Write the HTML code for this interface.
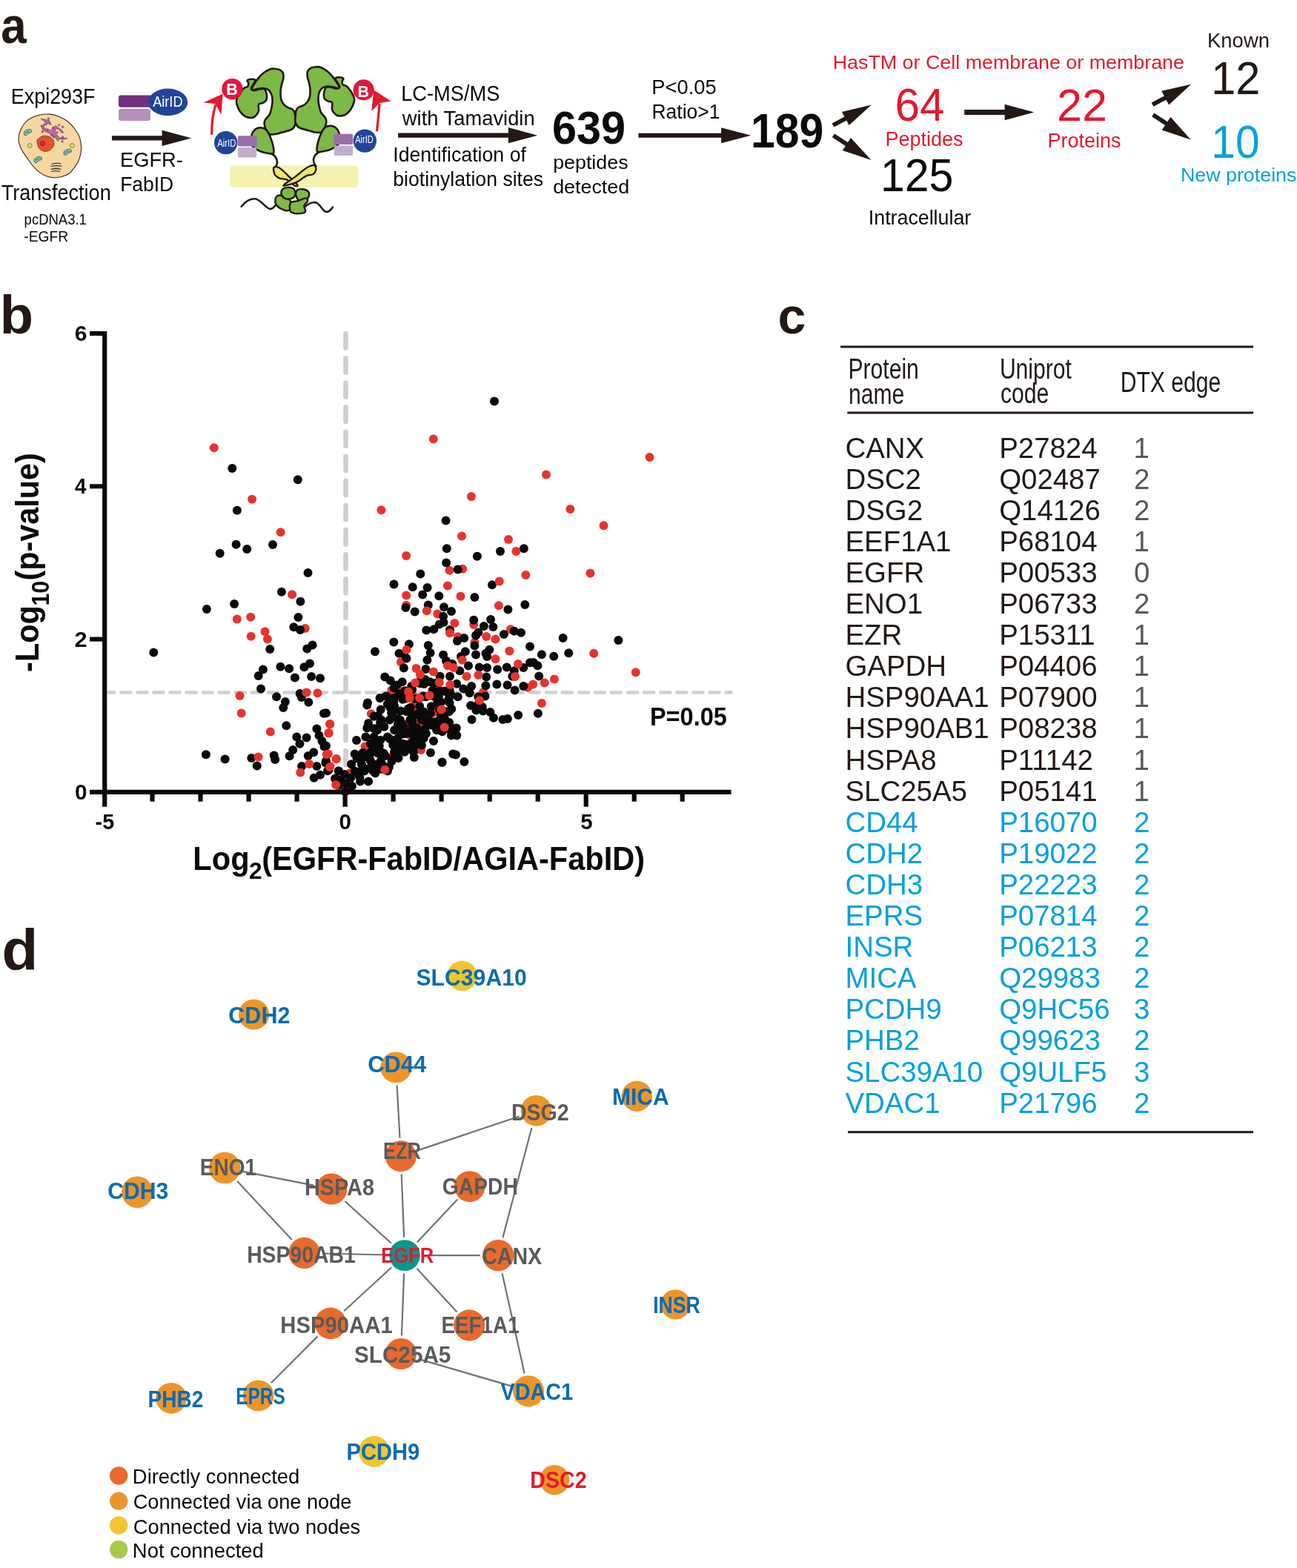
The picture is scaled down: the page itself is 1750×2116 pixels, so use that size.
<!DOCTYPE html>
<html><head><meta charset="utf-8"><title>Figure</title>
<style>
html,body{margin:0;padding:0;background:#fff;}
svg{display:block;}
svg text{font-family:"Liberation Sans",Arial,Helvetica,sans-serif;}
</style></head>
<body>
<svg width="1750" height="2116" viewBox="0 0 1750 2116">
<rect width="1750" height="2116" fill="#fff"/>
<text x="1.21" y="58.20" font-size="69.00" fill="#231815" font-weight="bold" textLength="34.37" lengthAdjust="spacingAndGlyphs" >a</text>
<text x="14.69" y="140.30" font-size="28.80" fill="#0a0a0a" textLength="113.88" lengthAdjust="spacingAndGlyphs" >Expi293F</text>
<text x="1.70" y="269.90" font-size="28.90" fill="#0a0a0a" textLength="148.04" lengthAdjust="spacingAndGlyphs" >Transfection</text>
<text x="32.62" y="302.80" font-size="20.00" fill="#0a0a0a" textLength="84.28" lengthAdjust="spacingAndGlyphs" >pcDNA3.1</text>
<text x="32.25" y="326.00" font-size="19.60" fill="#0a0a0a" textLength="59.83" lengthAdjust="spacingAndGlyphs" >-EGFR</text>
<rect x="160" y="128.6" width="46" height="16.2" rx="3" fill="#722F7E"/>
<rect x="160" y="146.9" width="43" height="16.1" rx="3" fill="#B491BB"/>
<ellipse cx="226.5" cy="137.9" rx="26.7" ry="18.3" fill="#20449A"/>
<text x="206.16" y="143.80" font-size="19.30" fill="#fff" textLength="40.39" lengthAdjust="spacingAndGlyphs" >AirID</text>
<polygon points="151.0,189.5 218.6,189.5 218.6,197.1 258.1,186.4 218.6,175.7 218.6,183.3 151.0,183.3" fill="#231815"/>
<text x="162.06" y="224.80" font-size="28.30" fill="#0a0a0a" textLength="84.83" lengthAdjust="spacingAndGlyphs" >EGFR-</text>
<text x="162.13" y="258.10" font-size="28.30" fill="#0a0a0a" textLength="72.12" lengthAdjust="spacingAndGlyphs" >FabID</text>
<text x="541.16" y="135.80" font-size="29.00" fill="#0a0a0a" textLength="133.37" lengthAdjust="spacingAndGlyphs" >LC-MS/MS</text>
<text x="542.85" y="169.00" font-size="28.50" fill="#0a0a0a" textLength="178.80" lengthAdjust="spacingAndGlyphs" >with Tamavidin</text>
<polygon points="537.1,185.8 685.9,185.8 685.9,193.3 725.2,182.7 685.9,172.1 685.9,179.5 537.1,179.5" fill="#231815"/>
<text x="530.24" y="218.40" font-size="28.50" fill="#0a0a0a" textLength="179.69" lengthAdjust="spacingAndGlyphs" >Identification of</text>
<text x="530.30" y="251.40" font-size="28.50" fill="#0a0a0a" textLength="202.87" lengthAdjust="spacingAndGlyphs" >biotinylation sites</text>
<text x="744.96" y="194.00" font-size="63.50" fill="#0a0a0a" font-weight="bold" textLength="99.10" lengthAdjust="spacingAndGlyphs" >639</text>
<text x="746.18" y="228.20" font-size="25.70" fill="#0a0a0a" textLength="101.38" lengthAdjust="spacingAndGlyphs" >peptides</text>
<text x="746.17" y="260.90" font-size="25.70" fill="#0a0a0a" textLength="102.96" lengthAdjust="spacingAndGlyphs" >detected</text>
<text x="879.36" y="126.70" font-size="27.50" fill="#0a0a0a" textLength="87.26" lengthAdjust="spacingAndGlyphs" >P&lt;0.05</text>
<text x="879.43" y="159.80" font-size="27.50" fill="#0a0a0a" textLength="92.06" lengthAdjust="spacingAndGlyphs" >Ratio&gt;1</text>
<polygon points="861.4,185.7 973.1,185.7 973.1,193.2 1013.2,182.7 973.1,172.2 973.1,179.7 861.4,179.7" fill="#231815"/>
<text x="1012.94" y="199.00" font-size="64.50" fill="#0a0a0a" font-weight="bold" textLength="98.41" lengthAdjust="spacingAndGlyphs" >189</text>
<polygon points="1125.4,171.6 1142.1,162.6 1145.6,169.1 1175.8,141.4 1135.9,151.0 1139.4,157.5 1122.6,166.4" fill="#231815"/>
<polygon points="1122.8,185.3 1140.8,197.0 1136.8,203.1 1175.5,216.0 1147.9,185.9 1143.9,192.1 1126.0,180.5" fill="#231815"/>
<text x="1123.70" y="92.80" font-size="26.30" fill="#E3192D" textLength="474.28" lengthAdjust="spacingAndGlyphs" >HasTM or Cell membrane or membrane</text>
<text x="1207.49" y="162.80" font-size="62.30" fill="#E3192D" textLength="66.98" lengthAdjust="spacingAndGlyphs" >64</text>
<text x="1194.49" y="197.30" font-size="27.60" fill="#E3192D" textLength="105.08" lengthAdjust="spacingAndGlyphs" >Peptides</text>
<text x="1187.92" y="257.80" font-size="62.30" fill="#0a0a0a" textLength="98.43" lengthAdjust="spacingAndGlyphs" >125</text>
<text x="1171.84" y="302.70" font-size="27.30" fill="#0a0a0a" textLength="138.39" lengthAdjust="spacingAndGlyphs" >Intracellular</text>
<polygon points="1301.2,154.9 1355.6,154.9 1355.6,162.2 1395.3,151.5 1355.6,140.8 1355.6,148.1 1301.2,148.1" fill="#231815"/>
<text x="1425.95" y="163.10" font-size="61.60" fill="#E3192D" textLength="67.93" lengthAdjust="spacingAndGlyphs" >22</text>
<text x="1413.59" y="199.30" font-size="27.60" fill="#E3192D" textLength="99.00" lengthAdjust="spacingAndGlyphs" >Proteins</text>
<polygon points="1556.3,143.8 1573.5,134.8 1577.1,141.5 1607.1,113.8 1567.2,122.8 1570.8,129.6 1553.7,138.6" fill="#231815"/>
<polygon points="1554.1,157.2 1572.0,169.1 1567.8,175.4 1606.7,188.6 1579.4,157.9 1575.2,164.3 1557.3,152.4" fill="#231815"/>
<text x="1629.05" y="63.70" font-size="27.30" fill="#231815" textLength="83.92" lengthAdjust="spacingAndGlyphs" >Known</text>
<text x="1634.28" y="126.90" font-size="63.00" fill="#231815" textLength="66.11" lengthAdjust="spacingAndGlyphs" >12</text>
<text x="1634.34" y="213.20" font-size="62.30" fill="#0AA0DC" textLength="65.31" lengthAdjust="spacingAndGlyphs" >10</text>
<text x="1592.90" y="245.10" font-size="26.30" fill="#0AA0DC" textLength="156.56" lengthAdjust="spacingAndGlyphs" >New proteins</text>
<g>
<path d="M67.6,154.1 C71.9,154.5 76.1,155.9 80.0,157.5 C83.9,159.1 87.7,161.0 91.1,163.7 C94.5,166.4 97.8,169.8 100.5,173.5 C103.2,177.2 106.0,181.3 107.5,185.6 C109.0,189.9 109.5,195.3 109.7,199.2 C109.9,203.1 109.2,205.8 108.5,209.0 C107.8,212.2 106.7,215.5 105.3,218.4 C103.9,221.3 101.9,223.9 100.0,226.5 C98.1,229.1 96.7,231.7 93.9,233.7 C91.1,235.7 86.7,237.5 83.0,238.5 C79.3,239.5 75.5,239.9 72.0,239.7 C68.5,239.5 65.2,238.8 62.0,237.5 C58.8,236.2 55.8,234.4 52.8,232.1 C49.8,229.8 46.7,226.7 44.0,223.5 C41.3,220.3 38.8,216.4 36.4,212.9 C34.0,209.4 31.3,205.9 29.5,202.5 C27.7,199.1 26.2,195.9 25.5,192.7 C24.8,189.4 24.9,186.0 25.4,183.0 C25.8,180.0 26.8,177.4 28.2,174.6 C29.6,171.8 31.2,168.6 33.5,166.0 C35.8,163.4 38.5,161.1 41.9,159.3 C45.3,157.5 49.7,155.9 54.0,155.0 C58.3,154.1 63.3,153.7 67.6,154.1 Z" fill="#F6D7A2" stroke="#3a2418" stroke-width="1.1"/>
<path d="M50.6,188.3 C51.9,186.6 55.5,184.0 58.3,183.4 C61.1,182.8 65.2,183.8 67.6,185.0 C70.0,186.2 71.8,188.4 72.5,190.5 C73.2,192.6 73.0,195.5 72.0,197.6 C71.0,199.7 68.6,202.0 66.5,203.1 C64.4,204.2 61.7,204.7 59.4,204.2 C57.1,203.7 54.3,202.0 52.8,200.3 C51.3,198.6 50.8,195.8 50.4,193.8 C50.0,191.8 49.3,190.0 50.6,188.3 Z" fill="#E8522A" stroke="#3a2418" stroke-width="0.7"/>
<circle cx="57.5" cy="193.5" r="3.1" fill="#E61E3A" stroke="#3a2418" stroke-width="0.6"/>
<circle cx="40.2" cy="196.5" r="3" fill="#D8E04A" stroke="#3a2418" stroke-width="0.5"/>
<circle cx="97.4" cy="196.5" r="3" fill="#D8E04A" stroke="#3a2418" stroke-width="0.5"/>
<g transform="translate(37.5 178.7) rotate(-22)"><path d="M-5.5,1.5 C-6,-3 -2,-4 1,-3.6 C4,-3.2 6,-2.5 5.6,0.5 C5.2,2.5 3,1.2 0,1.6 C-2,2 -3,4.5 -5.5,1.5 Z" fill="#6CC6C4" stroke="#3a2418" stroke-width="0.6"/><path d="M-3.5,0 L-2,-1.5 L-0.5,0 L1,-1.5 L2.5,0" fill="none" stroke="#3a2418" stroke-width="0.4"/></g>
<g transform="translate(91.1 205.3) rotate(-22)"><path d="M-5.5,1.5 C-6,-3 -2,-4 1,-3.6 C4,-3.2 6,-2.5 5.6,0.5 C5.2,2.5 3,1.2 0,1.6 C-2,2 -3,4.5 -5.5,1.5 Z" fill="#6CC6C4" stroke="#3a2418" stroke-width="0.6"/><path d="M-3.5,0 L-2,-1.5 L-0.5,0 L1,-1.5 L2.5,0" fill="none" stroke="#3a2418" stroke-width="0.4"/></g>
<g transform="translate(51.2 215.6) rotate(-22)"><path d="M-5.5,1.5 C-6,-3 -2,-4 1,-3.6 C4,-3.2 6,-2.5 5.6,0.5 C5.2,2.5 3,1.2 0,1.6 C-2,2 -3,4.5 -5.5,1.5 Z" fill="#6CC6C4" stroke="#3a2418" stroke-width="0.6"/><path d="M-3.5,0 L-2,-1.5 L-0.5,0 L1,-1.5 L2.5,0" fill="none" stroke="#3a2418" stroke-width="0.4"/></g>
<polygon points="55.0,160.1 66.5,162.6 69.2,168.3 63.2,166.4 63.2,168.6 58.3,169.7 60.5,173.0 64.9,175.2 69.2,176.3 70.9,173.0 74.7,169.7 77.4,170.8 79.1,173.0 82.9,175.2 85.6,179.0 83.5,179.5 79.1,174.6 76.3,173.5 74.7,175.7 74.2,179.5 77.4,182.8 80.2,186.1 91.1,186.4 85.6,188.3 80.2,187.7 78.0,190.5 74.7,185.6 72.5,183.9 69.2,181.7 63.8,178.4 58.3,176.3 56.1,171.9 58.3,168.1 61.6,165.3" fill="#C062AE" stroke="#3a2418" stroke-width="0.5" stroke-linejoin="round"/>
<circle cx="65.4" cy="160.1" r="1.2" fill="#C062AE" stroke="#3a2418" stroke-width="0.5"/>
<circle cx="56.1" cy="170.2" r="1.2" fill="#C062AE" stroke="#3a2418" stroke-width="0.5"/>
<circle cx="57.2" cy="177.9" r="1.2" fill="#C062AE" stroke="#3a2418" stroke-width="0.5"/>
<circle cx="64.3" cy="174.9" r="1.2" fill="#C062AE" stroke="#3a2418" stroke-width="0.5"/>
<circle cx="79.6" cy="168.6" r="1.2" fill="#C062AE" stroke="#3a2418" stroke-width="0.5"/>
<circle cx="84.6" cy="171.3" r="1.2" fill="#C062AE" stroke="#3a2418" stroke-width="0.5"/>
<circle cx="71.7" cy="172.4" r="1.2" fill="#C062AE" stroke="#3a2418" stroke-width="0.5"/>
<circle cx="76.9" cy="179" r="1.2" fill="#C062AE" stroke="#3a2418" stroke-width="0.5"/>
<circle cx="84.6" cy="185" r="1.2" fill="#C062AE" stroke="#3a2418" stroke-width="0.5"/>
<circle cx="84" cy="191" r="1.2" fill="#C062AE" stroke="#3a2418" stroke-width="0.5"/>
<circle cx="72.5" cy="185" r="1.2" fill="#C062AE" stroke="#3a2418" stroke-width="0.5"/>
<circle cx="69.8" cy="182.8" r="1.2" fill="#C062AE" stroke="#3a2418" stroke-width="0.5"/>
<path d="M69.5,221.5 C74,220 79,220 82.5,220.8 M68.5,224.5 C73,223.3 79,223.3 83.5,224.3 M68.5,228.2 C73,227.5 79,227.5 82.5,228.6 M69,231.2 C73,230.6 78,230.6 81,231.6" stroke="#2a1a14" stroke-width="1.1" fill="none"/>
<path d="M72,226 L80,226" stroke="#5BA8C8" stroke-width="0.8"/>
</g>
<rect x="310.1" y="223.4" width="173.6" height="29.5" rx="4.5" fill="#F5F2B0"/>
<g><path d="M339.4,119.7 C339.7,118.5 340.6,117.0 342.2,114.5 C343.8,112.0 346.6,107.7 349.1,104.8 C351.6,101.9 354.6,99.2 357.2,97.3 C359.8,95.4 362.5,94.0 364.7,93.2 C366.9,92.4 368.2,92.5 370.4,92.7 C372.6,92.9 376.0,93.4 377.9,94.4 C379.8,95.5 381.3,97.1 382.0,99.0 C382.7,100.9 382.6,103.5 382.3,105.9 C382.0,108.3 380.8,111.0 380.2,113.4 C379.6,115.8 379.1,117.9 378.8,120.3 C378.5,122.7 378.4,125.3 378.5,127.8 C378.6,130.3 378.9,133.1 379.7,135.3 C380.5,137.5 381.6,139.3 383.1,141.0 C384.6,142.7 386.6,144.1 388.5,145.2 C390.4,146.3 393.0,146.4 394.5,147.5 C396.0,148.6 396.8,149.8 397.5,152.0 C398.2,154.2 398.3,158.0 398.5,160.6 C398.7,163.2 399.2,165.2 398.5,167.5 C397.8,169.8 396.6,172.7 394.0,174.4 C391.4,176.1 386.6,176.9 383.1,177.9 C379.7,178.9 376.4,180.1 373.3,180.7 C370.2,181.3 366.8,181.6 364.7,181.3 C362.6,181.0 361.8,180.5 360.7,179.0 C359.6,177.5 358.5,174.2 357.8,172.1 C357.1,170.0 356.6,168.1 356.6,166.4 C356.6,164.7 357.1,163.2 357.8,161.8 C358.5,160.5 359.6,159.7 360.7,158.3 C361.8,157.0 363.2,155.8 364.1,153.7 C365.1,151.6 365.8,148.7 366.4,145.6 C367.0,142.5 367.6,138.3 367.6,135.3 C367.6,132.3 367.2,130.0 366.4,127.8 C365.6,125.6 364.3,123.3 363.0,122.0 C361.7,120.7 359.9,120.2 358.4,119.7 C356.9,119.2 355.9,119.0 353.8,119.1 C351.7,119.2 347.9,119.8 345.7,120.3 C343.5,120.8 341.6,122.1 340.5,122.0 C339.4,121.9 339.1,121.0 339.4,119.7 Z" fill="#7DB946" stroke="#231815" stroke-width="2.6" stroke-linejoin="round"/>
<path d="M328.4,119.7 C330.8,117.1 333.0,118.0 334.2,116.8 C335.4,115.5 335.4,113.5 335.3,112.2 C335.2,110.9 333.3,109.7 333.6,108.8 C333.9,107.9 335.7,107.4 337.1,107.1 C338.5,106.8 341.0,106.8 342.2,107.1 C343.4,107.4 344.9,107.2 344.5,108.8 C344.1,110.4 340.8,114.9 339.9,116.8 C338.9,118.7 338.2,119.4 338.8,120.3 C339.4,121.2 341.5,122.0 343.4,122.0 C345.3,122.0 348.0,120.6 350.3,120.3 C352.6,120.0 355.7,119.3 357.2,120.3 C358.7,121.3 359.0,124.2 359.5,126.1 C360.0,128.0 360.3,130.1 360.1,131.8 C359.9,133.5 359.4,135.2 358.4,136.4 C357.3,137.7 355.1,138.7 353.8,139.3 C352.5,139.9 351.2,139.4 350.3,139.9 C349.4,140.4 348.8,140.7 348.6,142.2 C348.4,143.7 349.4,147.1 349.1,149.1 C348.8,151.1 348.0,152.8 346.8,154.3 C345.6,155.8 343.9,157.5 342.2,158.3 C340.5,159.1 338.5,159.2 336.5,158.9 C334.5,158.6 332.2,158.1 330.1,156.6 C328.0,155.1 325.6,153.0 323.8,150.2 C322.0,147.4 319.9,142.9 319.2,139.9 C318.5,136.9 318.3,135.8 319.8,132.4 C321.3,129.0 326.0,122.3 328.4,119.7 Z" fill="#7DB946" stroke="#231815" stroke-width="2.6" stroke-linejoin="round"/>
<path d="M338.9,184.8 C339.2,181.5 340.5,179.0 342.0,177.0 C343.5,175.0 345.8,173.5 347.8,172.8 C349.8,172.1 352.2,172.3 354.0,172.6 C355.8,172.8 356.9,173.1 358.3,174.3 C359.7,175.5 361.2,177.8 362.5,180.0 C363.8,182.2 364.8,184.8 365.8,187.8 C366.9,190.8 368.3,195.0 368.8,198.2 C369.3,201.4 370.3,205.8 368.8,207.2 C367.3,208.6 363.0,207.0 360.0,206.5 C357.0,206.0 354.1,205.8 350.8,204.2 C347.5,202.6 342.3,200.0 340.3,196.8 C338.3,193.6 338.6,188.1 338.9,184.8 Z" fill="#7DB946" stroke="#231815" stroke-width="2.6" stroke-linejoin="round"/>
<path d="M366.5,207.5 C371,210 374,214 374,219 C374,223 372,225 370.5,227" fill="none" stroke="#231815" stroke-width="2.6" stroke-linecap="round"/>
<rect x="320.9" y="183.3" width="25.7" height="14.2" rx="1.5" fill="#9A6EA6"/>
<rect x="320.9" y="199" width="25.2" height="13.5" rx="1.5" fill="#C0ADCC"/>
<circle cx="304.7" cy="192.6" r="15.7" fill="#20449A"/></g>
<g transform="translate(797,-2.5) scale(-1,1)"><path d="M339.4,119.7 C339.7,118.5 340.6,117.0 342.2,114.5 C343.8,112.0 346.6,107.7 349.1,104.8 C351.6,101.9 354.6,99.2 357.2,97.3 C359.8,95.4 362.5,94.0 364.7,93.2 C366.9,92.4 368.2,92.5 370.4,92.7 C372.6,92.9 376.0,93.4 377.9,94.4 C379.8,95.5 381.3,97.1 382.0,99.0 C382.7,100.9 382.6,103.5 382.3,105.9 C382.0,108.3 380.8,111.0 380.2,113.4 C379.6,115.8 379.1,117.9 378.8,120.3 C378.5,122.7 378.4,125.3 378.5,127.8 C378.6,130.3 378.9,133.1 379.7,135.3 C380.5,137.5 381.6,139.3 383.1,141.0 C384.6,142.7 386.6,144.1 388.5,145.2 C390.4,146.3 393.0,146.4 394.5,147.5 C396.0,148.6 396.8,149.8 397.5,152.0 C398.2,154.2 398.3,158.0 398.5,160.6 C398.7,163.2 399.2,165.2 398.5,167.5 C397.8,169.8 396.6,172.7 394.0,174.4 C391.4,176.1 386.6,176.9 383.1,177.9 C379.7,178.9 376.4,180.1 373.3,180.7 C370.2,181.3 366.8,181.6 364.7,181.3 C362.6,181.0 361.8,180.5 360.7,179.0 C359.6,177.5 358.5,174.2 357.8,172.1 C357.1,170.0 356.6,168.1 356.6,166.4 C356.6,164.7 357.1,163.2 357.8,161.8 C358.5,160.5 359.6,159.7 360.7,158.3 C361.8,157.0 363.2,155.8 364.1,153.7 C365.1,151.6 365.8,148.7 366.4,145.6 C367.0,142.5 367.6,138.3 367.6,135.3 C367.6,132.3 367.2,130.0 366.4,127.8 C365.6,125.6 364.3,123.3 363.0,122.0 C361.7,120.7 359.9,120.2 358.4,119.7 C356.9,119.2 355.9,119.0 353.8,119.1 C351.7,119.2 347.9,119.8 345.7,120.3 C343.5,120.8 341.6,122.1 340.5,122.0 C339.4,121.9 339.1,121.0 339.4,119.7 Z" fill="#7DB946" stroke="#231815" stroke-width="2.6" stroke-linejoin="round"/>
<path d="M328.4,119.7 C330.8,117.1 333.0,118.0 334.2,116.8 C335.4,115.5 335.4,113.5 335.3,112.2 C335.2,110.9 333.3,109.7 333.6,108.8 C333.9,107.9 335.7,107.4 337.1,107.1 C338.5,106.8 341.0,106.8 342.2,107.1 C343.4,107.4 344.9,107.2 344.5,108.8 C344.1,110.4 340.8,114.9 339.9,116.8 C338.9,118.7 338.2,119.4 338.8,120.3 C339.4,121.2 341.5,122.0 343.4,122.0 C345.3,122.0 348.0,120.6 350.3,120.3 C352.6,120.0 355.7,119.3 357.2,120.3 C358.7,121.3 359.0,124.2 359.5,126.1 C360.0,128.0 360.3,130.1 360.1,131.8 C359.9,133.5 359.4,135.2 358.4,136.4 C357.3,137.7 355.1,138.7 353.8,139.3 C352.5,139.9 351.2,139.4 350.3,139.9 C349.4,140.4 348.8,140.7 348.6,142.2 C348.4,143.7 349.4,147.1 349.1,149.1 C348.8,151.1 348.0,152.8 346.8,154.3 C345.6,155.8 343.9,157.5 342.2,158.3 C340.5,159.1 338.5,159.2 336.5,158.9 C334.5,158.6 332.2,158.1 330.1,156.6 C328.0,155.1 325.6,153.0 323.8,150.2 C322.0,147.4 319.9,142.9 319.2,139.9 C318.5,136.9 318.3,135.8 319.8,132.4 C321.3,129.0 326.0,122.3 328.4,119.7 Z" fill="#7DB946" stroke="#231815" stroke-width="2.6" stroke-linejoin="round"/>
<path d="M338.9,184.8 C339.2,181.5 340.5,179.0 342.0,177.0 C343.5,175.0 345.8,173.5 347.8,172.8 C349.8,172.1 352.2,172.3 354.0,172.6 C355.8,172.8 356.9,173.1 358.3,174.3 C359.7,175.5 361.2,177.8 362.5,180.0 C363.8,182.2 364.8,184.8 365.8,187.8 C366.9,190.8 368.3,195.0 368.8,198.2 C369.3,201.4 370.3,205.8 368.8,207.2 C367.3,208.6 363.0,207.0 360.0,206.5 C357.0,206.0 354.1,205.8 350.8,204.2 C347.5,202.6 342.3,200.0 340.3,196.8 C338.3,193.6 338.6,188.1 338.9,184.8 Z" fill="#7DB946" stroke="#231815" stroke-width="2.6" stroke-linejoin="round"/>
<path d="M366.5,207.5 C371,210 374,214 374,219 C374,223 372,225 370.5,227" fill="none" stroke="#231815" stroke-width="2.6" stroke-linecap="round"/>
<rect x="320.9" y="183.3" width="25.7" height="14.2" rx="1.5" fill="#9A6EA6"/>
<rect x="320.9" y="199" width="25.2" height="13.5" rx="1.5" fill="#C0ADCC"/>
<circle cx="304.7" cy="192.6" r="15.7" fill="#20449A"/></g>
<text x="293.18" y="197.50" font-size="15.50" fill="#fff" textLength="25.26" lengthAdjust="spacingAndGlyphs" >AirID</text>
<text x="479.28" y="192.60" font-size="14.50" fill="#fff" textLength="24.44" lengthAdjust="spacingAndGlyphs" >AirID</text>
<path d="M370.0,225.5 C371.2,224.8 374.2,225.3 376.4,226.3 C378.6,227.3 380.6,229.3 383.0,231.5 C385.4,233.7 387.8,236.2 390.9,239.2 C394.0,242.2 400.3,247.8 401.4,249.7 C402.5,251.6 399.8,251.7 397.4,250.5 C395.0,249.3 390.1,244.0 386.9,242.4 C383.7,240.8 380.6,241.7 378.0,240.8 C375.4,239.9 373.1,238.6 371.6,236.8 C370.1,235.1 369.5,232.2 369.2,230.3 C368.9,228.4 368.8,226.2 370.0,225.5 Z" fill="#EAE56A" stroke="#231815" stroke-width="2.3" stroke-linejoin="round"/>
<path d="M424.0,223.1 C425.2,223.9 426.7,226.7 426.4,228.7 C426.1,230.7 424.7,233.6 422.4,235.1 C420.1,236.6 416.3,235.8 412.7,237.6 C409.1,239.3 405.3,243.4 400.6,245.6 C395.9,247.8 387.3,249.9 384.5,250.5 C381.7,251.1 381.6,250.8 383.7,248.9 C385.8,247.0 392.6,242.8 397.4,239.2 C402.2,235.6 409.1,229.6 412.7,227.1 C416.3,224.6 417.2,224.6 419.1,223.9 C421.0,223.2 422.8,222.3 424.0,223.1 Z" fill="#EAE56A" stroke="#231815" stroke-width="2.3" stroke-linejoin="round"/>
<path d="M325.6,278.7 C331,272 337,267.5 344.2,268.2 C352,269 358,281 364.3,281.9 C368,282.3 370,279 372.4,276.3" fill="none" stroke="#231815" stroke-width="2.5" stroke-linecap="round"/>
<path d="M411.9,278.7 C416,275 420,273 424.8,273 C430,273.5 433,280 437,284 C440,287 444,287 449,279.5" fill="none" stroke="#231815" stroke-width="2.5" stroke-linecap="round"/>
<path d="M373.2,265.0 C374.8,263.4 378.4,263.4 381.3,264.2 C384.2,265.0 389.0,267.2 390.9,269.8 C392.8,272.4 392.9,277.1 392.5,279.5 C392.1,281.9 390.9,284.0 388.5,284.3 C386.1,284.6 380.8,282.9 378.0,281.1 C375.2,279.4 372.4,276.5 371.6,273.8 C370.8,271.1 371.6,266.6 373.2,265.0 Z" fill="#7DB946" stroke="#231815" stroke-width="2.4" stroke-linejoin="round"/>
<path d="M400.6,256.9 C402.1,255.3 406.1,255.0 408.7,255.3 C411.2,255.6 414.6,256.9 415.9,258.5 C417.2,260.1 417.4,263.0 416.7,265.0 C416.0,267.0 413.9,269.5 411.9,270.6 C409.9,271.7 406.6,272.3 404.6,271.4 C402.6,270.5 400.5,267.4 399.8,265.0 C399.1,262.6 399.1,258.5 400.6,256.9 Z" fill="#7DB946" stroke="#231815" stroke-width="2.4" stroke-linejoin="round"/>
<path d="M381.3,255.3 C382.9,253.8 386.8,252.9 389.3,252.9 C391.9,252.9 395.1,253.6 396.6,255.3 C398.1,257.1 398.9,261.2 398.2,263.4 C397.5,265.5 394.9,267.5 392.5,268.2 C390.1,268.9 385.8,268.5 383.7,267.4 C381.6,266.3 380.0,263.7 379.6,261.7 C379.2,259.7 379.7,256.8 381.3,255.3 Z" fill="#7DB946" stroke="#231815" stroke-width="2.4" stroke-linejoin="round"/>
<path d="M392.5,273.0 C394.1,271.6 397.2,272.3 400.6,271.4 C404.0,270.5 410.3,267.4 412.7,267.4 C415.1,267.4 415.5,269.6 415.1,271.4 C414.7,273.1 410.8,275.5 410.3,277.9 C409.8,280.3 413.5,284.2 411.9,285.9 C410.3,287.6 403.8,288.3 400.6,288.3 C397.4,288.3 394.1,287.4 392.5,285.9 C390.9,284.4 390.9,281.6 390.9,279.5 C390.9,277.4 390.9,274.4 392.5,273.0 Z" fill="#7DB946" stroke="#231815" stroke-width="2.4" stroke-linejoin="round"/>
<circle cx="313.4" cy="120.1" r="14.2" fill="#E0173F"/>
<circle cx="490.6" cy="121.4" r="14.1" fill="#E0173F"/>
<text x="305.27" y="127.60" font-size="22.40" fill="#fff" font-weight="bold" textLength="15.60" lengthAdjust="spacingAndGlyphs" >B</text>
<text x="482.48" y="130.60" font-size="22.40" fill="#fff" font-weight="bold" textLength="15.48" lengthAdjust="spacingAndGlyphs" >B</text>
<path d="M285.7,181.8 C285.5,165 287.5,152 291,141" fill="none" stroke="#E3192D" stroke-width="3.2"/>
<polygon points="300.7,126.4 274.5,138.4 290.5,140 298.4,154.8" fill="#E3192D"/>
<path d="M508.4,177.2 C509.8,165 511,152 512,140" fill="none" stroke="#E3192D" stroke-width="3.2"/>
<polygon points="504.3,121.4 527.4,136.6 512.2,139 501.3,149.7" fill="#E3192D"/>
<text x="-0.21" y="450.40" font-size="72.50" fill="#231815" font-weight="bold" textLength="45.24" lengthAdjust="spacingAndGlyphs" >b</text>
<line x1="466.5" y1="450.3" x2="466.5" y2="1066" stroke="#CDCED0" stroke-width="6.6" stroke-linecap="round" stroke-dasharray="19.3 13.8"/>
<line x1="146.5" y1="934.5" x2="986.5" y2="934.5" stroke="#CDCED0" stroke-width="4.6" stroke-linecap="round" stroke-dasharray="13 9.06" stroke-dashoffset="5.26"/>
<circle cx="500.8" cy="963.2" r="6.0" fill="#E8332B"/>
<circle cx="552.4" cy="942.0" r="6.0" fill="#E8332B"/>
<circle cx="565.7" cy="942.0" r="6.0" fill="#E8332B"/>
<circle cx="579.6" cy="938.8" r="6.0" fill="#E8332B"/>
<circle cx="556.1" cy="954.0" r="6.0" fill="#E8332B"/>
<circle cx="583.7" cy="962.2" r="6.0" fill="#E8332B"/>
<circle cx="595.7" cy="957.6" r="6.0" fill="#E8332B"/>
<circle cx="598.4" cy="981.6" r="6.0" fill="#E8332B"/>
<circle cx="553.3" cy="992.6" r="6.0" fill="#E8332B"/>
<circle cx="568.0" cy="1012.0" r="6.0" fill="#E8332B"/>
<circle cx="492.5" cy="1007.4" r="6.0" fill="#E8332B"/>
<circle cx="472.2" cy="1043.3" r="6.0" fill="#E8332B"/>
<circle cx="471.3" cy="1065.4" r="6.0" fill="#E8332B"/>
<circle cx="456.6" cy="1060.8" r="6.0" fill="#E8332B"/>
<circle cx="445.1" cy="977.0" r="6.0" fill="#E8332B"/>
<circle cx="443.7" cy="989.0" r="6.0" fill="#E8332B"/>
<circle cx="442.8" cy="1017.5" r="6.0" fill="#E8332B"/>
<circle cx="453.8" cy="1024.0" r="6.0" fill="#E8332B"/>
<circle cx="445.5" cy="1034.1" r="6.0" fill="#E8332B"/>
<circle cx="550.0" cy="976.6" r="6.0" fill="#E8332B"/>
<circle cx="539.4" cy="932.0" r="6.0" fill="#E8332B"/>
<circle cx="570.1" cy="976.2" r="6.0" fill="#E8332B"/>
<circle cx="561.2" cy="1006.6" r="6.0" fill="#E8332B"/>
<circle cx="578.6" cy="968.2" r="6.0" fill="#E8332B"/>
<circle cx="546.6" cy="1012.6" r="6.0" fill="#E8332B"/>
<circle cx="529.9" cy="1021.3" r="6.0" fill="#E8332B"/>
<circle cx="549.7" cy="980.2" r="6.0" fill="#E8332B"/>
<circle cx="558.6" cy="939.9" r="6.0" fill="#E8332B"/>
<circle cx="588.1" cy="941.9" r="6.0" fill="#E8332B"/>
<circle cx="590.3" cy="948.4" r="6.0" fill="#E8332B"/>
<circle cx="576.7" cy="964.8" r="6.0" fill="#E8332B"/>
<circle cx="528.5" cy="942.1" r="6.0" fill="#E8332B"/>
<circle cx="539.2" cy="938.0" r="6.0" fill="#E8332B"/>
<circle cx="602.6" cy="979.8" r="6.0" fill="#E8332B"/>
<circle cx="566.3" cy="974.9" r="6.0" fill="#E8332B"/>
<circle cx="495.3" cy="951.6" r="6.0" fill="#0a0a0a"/>
<circle cx="512.8" cy="942.0" r="6.0" fill="#0a0a0a"/>
<circle cx="522.0" cy="940.1" r="6.0" fill="#0a0a0a"/>
<circle cx="531.2" cy="944.7" r="6.0" fill="#0a0a0a"/>
<circle cx="541.3" cy="938.3" r="6.0" fill="#0a0a0a"/>
<circle cx="543.2" cy="943.8" r="6.0" fill="#0a0a0a"/>
<circle cx="556.1" cy="930.5" r="6.0" fill="#0a0a0a"/>
<circle cx="529.4" cy="930.9" r="6.0" fill="#0a0a0a"/>
<circle cx="573.6" cy="940.1" r="6.0" fill="#0a0a0a"/>
<circle cx="513.7" cy="957.6" r="6.0" fill="#0a0a0a"/>
<circle cx="522.9" cy="950.3" r="6.0" fill="#0a0a0a"/>
<circle cx="532.1" cy="953.0" r="6.0" fill="#0a0a0a"/>
<circle cx="540.4" cy="959.5" r="6.0" fill="#0a0a0a"/>
<circle cx="552.4" cy="960.4" r="6.0" fill="#0a0a0a"/>
<circle cx="566.2" cy="953.0" r="6.0" fill="#0a0a0a"/>
<circle cx="571.7" cy="960.4" r="6.0" fill="#0a0a0a"/>
<circle cx="592.9" cy="957.6" r="6.0" fill="#0a0a0a"/>
<circle cx="504.5" cy="966.8" r="6.0" fill="#0a0a0a"/>
<circle cx="525.7" cy="971.5" r="6.0" fill="#0a0a0a"/>
<circle cx="497.1" cy="976.1" r="6.0" fill="#0a0a0a"/>
<circle cx="495.3" cy="982.5" r="6.0" fill="#0a0a0a"/>
<circle cx="509.1" cy="985.3" r="6.0" fill="#0a0a0a"/>
<circle cx="518.3" cy="980.7" r="6.0" fill="#0a0a0a"/>
<circle cx="532.1" cy="985.3" r="6.0" fill="#0a0a0a"/>
<circle cx="544.1" cy="979.7" r="6.0" fill="#0a0a0a"/>
<circle cx="553.3" cy="971.5" r="6.0" fill="#0a0a0a"/>
<circle cx="569.0" cy="971.5" r="6.0" fill="#0a0a0a"/>
<circle cx="573.6" cy="983.4" r="6.0" fill="#0a0a0a"/>
<circle cx="582.8" cy="978.8" r="6.0" fill="#0a0a0a"/>
<circle cx="589.2" cy="985.3" r="6.0" fill="#0a0a0a"/>
<circle cx="596.6" cy="987.1" r="6.0" fill="#0a0a0a"/>
<circle cx="493.4" cy="994.5" r="6.0" fill="#0a0a0a"/>
<circle cx="504.5" cy="994.5" r="6.0" fill="#0a0a0a"/>
<circle cx="522.9" cy="994.5" r="6.0" fill="#0a0a0a"/>
<circle cx="536.7" cy="996.3" r="6.0" fill="#0a0a0a"/>
<circle cx="546.9" cy="989.9" r="6.0" fill="#0a0a0a"/>
<circle cx="559.7" cy="994.5" r="6.0" fill="#0a0a0a"/>
<circle cx="571.7" cy="996.3" r="6.0" fill="#0a0a0a"/>
<circle cx="481.0" cy="999.1" r="6.0" fill="#0a0a0a"/>
<circle cx="499.9" cy="1003.7" r="6.0" fill="#0a0a0a"/>
<circle cx="511.8" cy="1006.5" r="6.0" fill="#0a0a0a"/>
<circle cx="530.3" cy="1005.5" r="6.0" fill="#0a0a0a"/>
<circle cx="544.1" cy="1003.7" r="6.0" fill="#0a0a0a"/>
<circle cx="555.1" cy="1002.8" r="6.0" fill="#0a0a0a"/>
<circle cx="569.0" cy="1005.5" r="6.0" fill="#0a0a0a"/>
<circle cx="580.9" cy="1015.7" r="6.0" fill="#0a0a0a"/>
<circle cx="478.7" cy="1017.5" r="6.0" fill="#0a0a0a"/>
<circle cx="489.7" cy="1015.7" r="6.0" fill="#0a0a0a"/>
<circle cx="502.6" cy="1012.9" r="6.0" fill="#0a0a0a"/>
<circle cx="513.7" cy="1014.7" r="6.0" fill="#0a0a0a"/>
<circle cx="532.1" cy="1014.7" r="6.0" fill="#0a0a0a"/>
<circle cx="545.9" cy="1014.7" r="6.0" fill="#0a0a0a"/>
<circle cx="557.9" cy="1014.7" r="6.0" fill="#0a0a0a"/>
<circle cx="558.8" cy="1022.1" r="6.0" fill="#0a0a0a"/>
<circle cx="474.1" cy="1031.3" r="6.0" fill="#0a0a0a"/>
<circle cx="487.9" cy="1031.3" r="6.0" fill="#0a0a0a"/>
<circle cx="499.9" cy="1026.7" r="6.0" fill="#0a0a0a"/>
<circle cx="513.7" cy="1026.7" r="6.0" fill="#0a0a0a"/>
<circle cx="528.4" cy="1027.6" r="6.0" fill="#0a0a0a"/>
<circle cx="537.6" cy="1023.0" r="6.0" fill="#0a0a0a"/>
<circle cx="596.6" cy="1028.6" r="6.0" fill="#0a0a0a"/>
<circle cx="522.9" cy="1040.5" r="6.0" fill="#0a0a0a"/>
<circle cx="506.3" cy="1043.3" r="6.0" fill="#0a0a0a"/>
<circle cx="491.6" cy="1040.5" r="6.0" fill="#0a0a0a"/>
<circle cx="478.7" cy="1040.5" r="6.0" fill="#0a0a0a"/>
<circle cx="456.6" cy="1040.5" r="6.0" fill="#0a0a0a"/>
<circle cx="443.7" cy="1038.7" r="6.0" fill="#0a0a0a"/>
<circle cx="473.2" cy="1049.7" r="6.0" fill="#0a0a0a"/>
<circle cx="486.1" cy="1054.4" r="6.0" fill="#0a0a0a"/>
<circle cx="497.1" cy="1054.4" r="6.0" fill="#0a0a0a"/>
<circle cx="458.4" cy="1052.5" r="6.0" fill="#0a0a0a"/>
<circle cx="452.0" cy="1050.7" r="6.0" fill="#0a0a0a"/>
<circle cx="458.4" cy="1059.0" r="6.0" fill="#0a0a0a"/>
<circle cx="465.8" cy="1068.2" r="6.0" fill="#0a0a0a"/>
<circle cx="475.0" cy="1060.8" r="6.0" fill="#0a0a0a"/>
<circle cx="440.0" cy="962.2" r="6.0" fill="#0a0a0a"/>
<circle cx="440.0" cy="1006.5" r="6.0" fill="#0a0a0a"/>
<circle cx="440.0" cy="1026.7" r="6.0" fill="#0a0a0a"/>
<circle cx="510.0" cy="966.0" r="6.0" fill="#0a0a0a"/>
<circle cx="515.0" cy="972.0" r="6.0" fill="#0a0a0a"/>
<circle cx="528.0" cy="962.0" r="6.0" fill="#0a0a0a"/>
<circle cx="536.0" cy="970.0" r="6.0" fill="#0a0a0a"/>
<circle cx="560.0" cy="965.0" r="6.0" fill="#0a0a0a"/>
<circle cx="562.0" cy="982.0" r="6.0" fill="#0a0a0a"/>
<circle cx="525.0" cy="1035.0" r="6.0" fill="#0a0a0a"/>
<circle cx="515.0" cy="1038.0" r="6.0" fill="#0a0a0a"/>
<circle cx="500.0" cy="1036.0" r="6.0" fill="#0a0a0a"/>
<circle cx="484.0" cy="1045.0" r="6.0" fill="#0a0a0a"/>
<circle cx="465.0" cy="1045.0" r="6.0" fill="#0a0a0a"/>
<circle cx="466.0" cy="1057.0" r="6.0" fill="#0a0a0a"/>
<circle cx="510.0" cy="1000.0" r="6.0" fill="#0a0a0a"/>
<circle cx="520.0" cy="1020.0" r="6.0" fill="#0a0a0a"/>
<circle cx="550.0" cy="1010.0" r="6.0" fill="#0a0a0a"/>
<circle cx="575.0" cy="990.0" r="6.0" fill="#0a0a0a"/>
<circle cx="585.0" cy="1000.0" r="6.0" fill="#0a0a0a"/>
<circle cx="600.0" cy="970.0" r="6.0" fill="#0a0a0a"/>
<circle cx="526.2" cy="997.3" r="6.0" fill="#0a0a0a"/>
<circle cx="606.6" cy="983.0" r="6.0" fill="#0a0a0a"/>
<circle cx="535.6" cy="1001.5" r="6.0" fill="#0a0a0a"/>
<circle cx="567.3" cy="918.6" r="6.0" fill="#0a0a0a"/>
<circle cx="560.5" cy="1005.8" r="6.0" fill="#0a0a0a"/>
<circle cx="537.6" cy="1009.5" r="6.0" fill="#0a0a0a"/>
<circle cx="534.3" cy="1012.9" r="6.0" fill="#0a0a0a"/>
<circle cx="527.0" cy="954.5" r="6.0" fill="#0a0a0a"/>
<circle cx="579.7" cy="973.1" r="6.0" fill="#0a0a0a"/>
<circle cx="593.4" cy="971.0" r="6.0" fill="#0a0a0a"/>
<circle cx="604.2" cy="983.6" r="6.0" fill="#0a0a0a"/>
<circle cx="581.8" cy="953.2" r="6.0" fill="#0a0a0a"/>
<circle cx="584.9" cy="939.2" r="6.0" fill="#0a0a0a"/>
<circle cx="544.4" cy="980.2" r="6.0" fill="#0a0a0a"/>
<circle cx="481.6" cy="1023.4" r="6.0" fill="#0a0a0a"/>
<circle cx="580.8" cy="962.2" r="6.0" fill="#0a0a0a"/>
<circle cx="512.4" cy="981.1" r="6.0" fill="#0a0a0a"/>
<circle cx="612.5" cy="985.7" r="6.0" fill="#0a0a0a"/>
<circle cx="489.7" cy="1019.3" r="6.0" fill="#0a0a0a"/>
<circle cx="492.9" cy="1037.4" r="6.0" fill="#0a0a0a"/>
<circle cx="550.7" cy="956.8" r="6.0" fill="#0a0a0a"/>
<circle cx="553.8" cy="954.8" r="6.0" fill="#0a0a0a"/>
<circle cx="605.4" cy="943.2" r="6.0" fill="#0a0a0a"/>
<circle cx="546.6" cy="932.2" r="6.0" fill="#0a0a0a"/>
<circle cx="566.9" cy="1001.0" r="6.0" fill="#0a0a0a"/>
<circle cx="531.3" cy="1023.2" r="6.0" fill="#0a0a0a"/>
<circle cx="509.1" cy="1016.3" r="6.0" fill="#0a0a0a"/>
<circle cx="555.6" cy="970.3" r="6.0" fill="#0a0a0a"/>
<circle cx="548.4" cy="1004.7" r="6.0" fill="#0a0a0a"/>
<circle cx="573.2" cy="971.2" r="6.0" fill="#0a0a0a"/>
<circle cx="531.1" cy="947.2" r="6.0" fill="#0a0a0a"/>
<circle cx="568.1" cy="987.8" r="6.0" fill="#0a0a0a"/>
<circle cx="500.4" cy="1015.3" r="6.0" fill="#0a0a0a"/>
<circle cx="504.8" cy="1013.4" r="6.0" fill="#0a0a0a"/>
<circle cx="599.1" cy="970.6" r="6.0" fill="#0a0a0a"/>
<circle cx="548.5" cy="960.3" r="6.0" fill="#0a0a0a"/>
<circle cx="525.9" cy="954.0" r="6.0" fill="#0a0a0a"/>
<circle cx="555.7" cy="987.3" r="6.0" fill="#0a0a0a"/>
<circle cx="502.8" cy="1039.7" r="6.0" fill="#0a0a0a"/>
<circle cx="501.8" cy="1032.5" r="6.0" fill="#0a0a0a"/>
<circle cx="590.5" cy="948.3" r="6.0" fill="#0a0a0a"/>
<circle cx="556.3" cy="980.1" r="6.0" fill="#0a0a0a"/>
<circle cx="556.4" cy="1011.8" r="6.0" fill="#0a0a0a"/>
<circle cx="565.7" cy="942.5" r="6.0" fill="#0a0a0a"/>
<circle cx="530.1" cy="939.4" r="6.0" fill="#0a0a0a"/>
<circle cx="570.8" cy="939.4" r="6.0" fill="#0a0a0a"/>
<circle cx="567.9" cy="991.3" r="6.0" fill="#0a0a0a"/>
<circle cx="516.2" cy="1032.6" r="6.0" fill="#0a0a0a"/>
<circle cx="513.3" cy="998.7" r="6.0" fill="#0a0a0a"/>
<circle cx="610.0" cy="982.7" r="6.0" fill="#0a0a0a"/>
<circle cx="560.1" cy="943.3" r="6.0" fill="#0a0a0a"/>
<circle cx="485.4" cy="1049.0" r="6.0" fill="#0a0a0a"/>
<circle cx="594.9" cy="965.2" r="6.0" fill="#0a0a0a"/>
<circle cx="587.0" cy="921.9" r="6.0" fill="#0a0a0a"/>
<circle cx="585.4" cy="938.5" r="6.0" fill="#0a0a0a"/>
<circle cx="506.2" cy="1032.0" r="6.0" fill="#0a0a0a"/>
<circle cx="498.5" cy="1023.0" r="6.0" fill="#0a0a0a"/>
<circle cx="558.0" cy="991.7" r="6.0" fill="#0a0a0a"/>
<circle cx="484.6" cy="1041.5" r="6.0" fill="#0a0a0a"/>
<circle cx="546.7" cy="942.7" r="6.0" fill="#0a0a0a"/>
<circle cx="540.4" cy="988.7" r="6.0" fill="#0a0a0a"/>
<circle cx="517.4" cy="1034.0" r="6.0" fill="#0a0a0a"/>
<circle cx="545.0" cy="986.8" r="6.0" fill="#0a0a0a"/>
<circle cx="566.8" cy="922.2" r="6.0" fill="#0a0a0a"/>
<circle cx="540.9" cy="975.1" r="6.0" fill="#0a0a0a"/>
<circle cx="530.3" cy="960.4" r="6.0" fill="#0a0a0a"/>
<circle cx="606.8" cy="931.9" r="6.0" fill="#0a0a0a"/>
<circle cx="566.2" cy="961.2" r="6.0" fill="#0a0a0a"/>
<circle cx="509.7" cy="1006.4" r="6.0" fill="#0a0a0a"/>
<circle cx="539.5" cy="978.6" r="6.0" fill="#0a0a0a"/>
<circle cx="513.1" cy="975.0" r="6.0" fill="#0a0a0a"/>
<circle cx="539.3" cy="936.5" r="6.0" fill="#0a0a0a"/>
<circle cx="557.9" cy="992.7" r="6.0" fill="#0a0a0a"/>
<circle cx="595.1" cy="947.6" r="6.0" fill="#0a0a0a"/>
<circle cx="602.9" cy="960.2" r="6.0" fill="#0a0a0a"/>
<circle cx="600.3" cy="932.6" r="6.0" fill="#0a0a0a"/>
<circle cx="489.9" cy="1022.6" r="6.0" fill="#0a0a0a"/>
<circle cx="590.9" cy="976.3" r="6.0" fill="#0a0a0a"/>
<circle cx="583.7" cy="931.4" r="6.0" fill="#0a0a0a"/>
<circle cx="517.7" cy="1016.4" r="6.0" fill="#0a0a0a"/>
<circle cx="534.8" cy="1016.4" r="6.0" fill="#0a0a0a"/>
<circle cx="543.1" cy="990.5" r="6.0" fill="#0a0a0a"/>
<circle cx="546.0" cy="934.5" r="6.0" fill="#0a0a0a"/>
<circle cx="459.7" cy="1056.8" r="6.0" fill="#0a0a0a"/>
<circle cx="504.8" cy="983.2" r="6.0" fill="#0a0a0a"/>
<circle cx="536.9" cy="977.6" r="6.0" fill="#0a0a0a"/>
<circle cx="575.1" cy="973.8" r="6.0" fill="#0a0a0a"/>
<circle cx="556.3" cy="973.7" r="6.0" fill="#0a0a0a"/>
<circle cx="551.3" cy="988.9" r="6.0" fill="#0a0a0a"/>
<circle cx="587.9" cy="973.9" r="6.0" fill="#0a0a0a"/>
<circle cx="579.5" cy="973.9" r="6.0" fill="#0a0a0a"/>
<circle cx="572.2" cy="922.9" r="6.0" fill="#0a0a0a"/>
<circle cx="507.3" cy="983.5" r="6.0" fill="#0a0a0a"/>
<circle cx="557.9" cy="1007.1" r="6.0" fill="#0a0a0a"/>
<circle cx="562.6" cy="963.5" r="6.0" fill="#0a0a0a"/>
<circle cx="561.5" cy="998.8" r="6.0" fill="#0a0a0a"/>
<circle cx="539.9" cy="971.4" r="6.0" fill="#0a0a0a"/>
<circle cx="606.5" cy="769.7" r="6.0" fill="#E8332B"/>
<circle cx="624.1" cy="767.7" r="6.0" fill="#E8332B"/>
<circle cx="411.8" cy="847.9" r="6.0" fill="#E8332B"/>
<circle cx="548.2" cy="816.7" r="6.0" fill="#E8332B"/>
<circle cx="590.3" cy="828.4" r="6.0" fill="#E8332B"/>
<circle cx="639.2" cy="843.1" r="6.0" fill="#E8332B"/>
<circle cx="688.8" cy="849.3" r="6.0" fill="#E8332B"/>
<circle cx="617.8" cy="859.3" r="6.0" fill="#E8332B"/>
<circle cx="640.4" cy="867.1" r="6.0" fill="#E8332B"/>
<circle cx="541.0" cy="893.5" r="6.0" fill="#E8332B"/>
<circle cx="528.5" cy="931.1" r="6.0" fill="#E8332B"/>
<circle cx="712.1" cy="927.7" r="6.0" fill="#E8332B"/>
<circle cx="652.0" cy="933.9" r="6.0" fill="#E8332B"/>
<circle cx="277.9" cy="1018.2" r="6.0" fill="#0a0a0a"/>
<circle cx="313.3" cy="631.9" r="6.0" fill="#0a0a0a"/>
<circle cx="319.9" cy="688.8" r="6.0" fill="#0a0a0a"/>
<circle cx="318.6" cy="734.8" r="6.0" fill="#0a0a0a"/>
<circle cx="333.2" cy="741.1" r="6.0" fill="#0a0a0a"/>
<circle cx="296.7" cy="746.8" r="6.0" fill="#0a0a0a"/>
<circle cx="667.0" cy="541.6" r="6.0" fill="#0a0a0a"/>
<circle cx="401.8" cy="647.3" r="6.0" fill="#0a0a0a"/>
<circle cx="368.0" cy="734.9" r="6.0" fill="#0a0a0a"/>
<circle cx="415.5" cy="772.9" r="6.0" fill="#0a0a0a"/>
<circle cx="531.5" cy="788.5" r="6.0" fill="#0a0a0a"/>
<circle cx="556.7" cy="792.2" r="6.0" fill="#0a0a0a"/>
<circle cx="601.6" cy="702.6" r="6.0" fill="#0a0a0a"/>
<circle cx="602.8" cy="740.3" r="6.0" fill="#0a0a0a"/>
<circle cx="706.8" cy="740.3" r="6.0" fill="#0a0a0a"/>
<circle cx="675.0" cy="744.0" r="6.0" fill="#0a0a0a"/>
<circle cx="643.9" cy="750.8" r="6.0" fill="#0a0a0a"/>
<circle cx="602.1" cy="759.4" r="6.0" fill="#0a0a0a"/>
<circle cx="617.7" cy="768.5" r="6.0" fill="#0a0a0a"/>
<circle cx="567.3" cy="774.6" r="6.0" fill="#0a0a0a"/>
<circle cx="664.0" cy="789.3" r="6.0" fill="#0a0a0a"/>
<circle cx="576.6" cy="792.9" r="6.0" fill="#0a0a0a"/>
<circle cx="379.9" cy="798.8" r="6.0" fill="#0a0a0a"/>
<circle cx="405.4" cy="811.7" r="6.0" fill="#0a0a0a"/>
<circle cx="316.1" cy="815.0" r="6.0" fill="#0a0a0a"/>
<circle cx="278.9" cy="822.1" r="6.0" fill="#0a0a0a"/>
<circle cx="402.4" cy="832.9" r="6.0" fill="#0a0a0a"/>
<circle cx="396.3" cy="846.3" r="6.0" fill="#0a0a0a"/>
<circle cx="405.1" cy="850.1" r="6.0" fill="#0a0a0a"/>
<circle cx="207.3" cy="880.6" r="6.0" fill="#0a0a0a"/>
<circle cx="364.2" cy="876.0" r="6.0" fill="#0a0a0a"/>
<circle cx="421.6" cy="870.6" r="6.0" fill="#0a0a0a"/>
<circle cx="414.3" cy="875.6" r="6.0" fill="#0a0a0a"/>
<circle cx="354.9" cy="903.5" r="6.0" fill="#0a0a0a"/>
<circle cx="348.7" cy="911.9" r="6.0" fill="#0a0a0a"/>
<circle cx="378.4" cy="899.7" r="6.0" fill="#0a0a0a"/>
<circle cx="390.1" cy="902.2" r="6.0" fill="#0a0a0a"/>
<circle cx="418.0" cy="895.5" r="6.0" fill="#0a0a0a"/>
<circle cx="410.4" cy="900.2" r="6.0" fill="#0a0a0a"/>
<circle cx="397.9" cy="914.4" r="6.0" fill="#0a0a0a"/>
<circle cx="420.1" cy="913.0" r="6.0" fill="#0a0a0a"/>
<circle cx="432.0" cy="915.2" r="6.0" fill="#0a0a0a"/>
<circle cx="352.0" cy="929.4" r="6.0" fill="#0a0a0a"/>
<circle cx="373.1" cy="940.3" r="6.0" fill="#0a0a0a"/>
<circle cx="384.9" cy="946.9" r="6.0" fill="#0a0a0a"/>
<circle cx="404.6" cy="936.1" r="6.0" fill="#0a0a0a"/>
<circle cx="406.8" cy="941.1" r="6.0" fill="#0a0a0a"/>
<circle cx="416.3" cy="947.8" r="6.0" fill="#0a0a0a"/>
<circle cx="570.2" cy="802.5" r="6.0" fill="#0a0a0a"/>
<circle cx="592.3" cy="804.2" r="6.0" fill="#0a0a0a"/>
<circle cx="640.4" cy="805.9" r="6.0" fill="#0a0a0a"/>
<circle cx="708.3" cy="815.9" r="6.0" fill="#0a0a0a"/>
<circle cx="685.4" cy="822.6" r="6.0" fill="#0a0a0a"/>
<circle cx="547.4" cy="820.0" r="6.0" fill="#0a0a0a"/>
<circle cx="577.8" cy="816.4" r="6.0" fill="#0a0a0a"/>
<circle cx="559.7" cy="825.4" r="6.0" fill="#0a0a0a"/>
<circle cx="599.0" cy="819.2" r="6.0" fill="#0a0a0a"/>
<circle cx="609.0" cy="825.1" r="6.0" fill="#0a0a0a"/>
<circle cx="598.1" cy="831.7" r="6.0" fill="#0a0a0a"/>
<circle cx="598.6" cy="840.1" r="6.0" fill="#0a0a0a"/>
<circle cx="592.8" cy="842.6" r="6.0" fill="#0a0a0a"/>
<circle cx="585.3" cy="849.3" r="6.0" fill="#0a0a0a"/>
<circle cx="575.3" cy="850.4" r="6.0" fill="#0a0a0a"/>
<circle cx="639.2" cy="836.7" r="6.0" fill="#0a0a0a"/>
<circle cx="662.1" cy="835.9" r="6.0" fill="#0a0a0a"/>
<circle cx="665.4" cy="845.9" r="6.0" fill="#0a0a0a"/>
<circle cx="652.9" cy="845.1" r="6.0" fill="#0a0a0a"/>
<circle cx="645.4" cy="853.4" r="6.0" fill="#0a0a0a"/>
<circle cx="642.0" cy="857.6" r="6.0" fill="#0a0a0a"/>
<circle cx="607.0" cy="850.1" r="6.0" fill="#0a0a0a"/>
<circle cx="693.8" cy="851.8" r="6.0" fill="#0a0a0a"/>
<circle cx="703.0" cy="853.8" r="6.0" fill="#0a0a0a"/>
<circle cx="679.9" cy="855.9" r="6.0" fill="#0a0a0a"/>
<circle cx="626.2" cy="861.0" r="6.0" fill="#0a0a0a"/>
<circle cx="617.0" cy="865.1" r="6.0" fill="#0a0a0a"/>
<circle cx="640.4" cy="871.3" r="6.0" fill="#0a0a0a"/>
<circle cx="531.3" cy="866.5" r="6.0" fill="#0a0a0a"/>
<circle cx="551.9" cy="869.3" r="6.0" fill="#0a0a0a"/>
<circle cx="577.8" cy="871.0" r="6.0" fill="#0a0a0a"/>
<circle cx="506.0" cy="879.3" r="6.0" fill="#0a0a0a"/>
<circle cx="538.5" cy="881.8" r="6.0" fill="#0a0a0a"/>
<circle cx="545.2" cy="882.7" r="6.0" fill="#0a0a0a"/>
<circle cx="548.5" cy="888.5" r="6.0" fill="#0a0a0a"/>
<circle cx="580.6" cy="881.0" r="6.0" fill="#0a0a0a"/>
<circle cx="598.1" cy="883.8" r="6.0" fill="#0a0a0a"/>
<circle cx="627.8" cy="879.3" r="6.0" fill="#0a0a0a"/>
<circle cx="622.0" cy="886.0" r="6.0" fill="#0a0a0a"/>
<circle cx="642.0" cy="883.5" r="6.0" fill="#0a0a0a"/>
<circle cx="660.4" cy="876.8" r="6.0" fill="#0a0a0a"/>
<circle cx="655.4" cy="881.8" r="6.0" fill="#0a0a0a"/>
<circle cx="657.1" cy="886.0" r="6.0" fill="#0a0a0a"/>
<circle cx="715.0" cy="872.6" r="6.0" fill="#0a0a0a"/>
<circle cx="576.4" cy="890.7" r="6.0" fill="#0a0a0a"/>
<circle cx="544.9" cy="901.5" r="6.0" fill="#0a0a0a"/>
<circle cx="602.0" cy="891.8" r="6.0" fill="#0a0a0a"/>
<circle cx="632.0" cy="898.5" r="6.0" fill="#0a0a0a"/>
<circle cx="610.3" cy="896.0" r="6.0" fill="#0a0a0a"/>
<circle cx="574.4" cy="903.0" r="6.0" fill="#0a0a0a"/>
<circle cx="620.3" cy="905.2" r="6.0" fill="#0a0a0a"/>
<circle cx="646.7" cy="900.5" r="6.0" fill="#0a0a0a"/>
<circle cx="657.1" cy="901.0" r="6.0" fill="#0a0a0a"/>
<circle cx="671.2" cy="903.5" r="6.0" fill="#0a0a0a"/>
<circle cx="683.8" cy="900.5" r="6.0" fill="#0a0a0a"/>
<circle cx="693.8" cy="905.2" r="6.0" fill="#0a0a0a"/>
<circle cx="706.3" cy="901.0" r="6.0" fill="#0a0a0a"/>
<circle cx="715.0" cy="894.3" r="6.0" fill="#0a0a0a"/>
<circle cx="519.3" cy="913.5" r="6.0" fill="#0a0a0a"/>
<circle cx="526.8" cy="918.5" r="6.0" fill="#0a0a0a"/>
<circle cx="542.7" cy="920.2" r="6.0" fill="#0a0a0a"/>
<circle cx="593.6" cy="912.7" r="6.0" fill="#0a0a0a"/>
<circle cx="607.0" cy="912.7" r="6.0" fill="#0a0a0a"/>
<circle cx="656.2" cy="913.5" r="6.0" fill="#0a0a0a"/>
<circle cx="691.3" cy="912.7" r="6.0" fill="#0a0a0a"/>
<circle cx="573.6" cy="916.9" r="6.0" fill="#0a0a0a"/>
<circle cx="580.3" cy="920.2" r="6.0" fill="#0a0a0a"/>
<circle cx="616.2" cy="922.7" r="6.0" fill="#0a0a0a"/>
<circle cx="670.4" cy="923.6" r="6.0" fill="#0a0a0a"/>
<circle cx="684.6" cy="924.4" r="6.0" fill="#0a0a0a"/>
<circle cx="555.2" cy="926.1" r="6.0" fill="#0a0a0a"/>
<circle cx="535.2" cy="924.4" r="6.0" fill="#0a0a0a"/>
<circle cx="531.8" cy="928.6" r="6.0" fill="#0a0a0a"/>
<circle cx="625.3" cy="929.4" r="6.0" fill="#0a0a0a"/>
<circle cx="636.2" cy="926.1" r="6.0" fill="#0a0a0a"/>
<circle cx="655.4" cy="925.2" r="6.0" fill="#0a0a0a"/>
<circle cx="694.6" cy="931.6" r="6.0" fill="#0a0a0a"/>
<circle cx="706.3" cy="926.1" r="6.0" fill="#0a0a0a"/>
<circle cx="593.6" cy="931.9" r="6.0" fill="#0a0a0a"/>
<circle cx="602.0" cy="933.6" r="6.0" fill="#0a0a0a"/>
<circle cx="633.7" cy="935.2" r="6.0" fill="#0a0a0a"/>
<circle cx="654.5" cy="939.4" r="6.0" fill="#0a0a0a"/>
<circle cx="512.6" cy="941.9" r="6.0" fill="#0a0a0a"/>
<circle cx="521.0" cy="939.4" r="6.0" fill="#0a0a0a"/>
<circle cx="531.0" cy="944.4" r="6.0" fill="#0a0a0a"/>
<circle cx="541.9" cy="938.6" r="6.0" fill="#0a0a0a"/>
<circle cx="574.4" cy="940.3" r="6.0" fill="#0a0a0a"/>
<circle cx="592.0" cy="939.4" r="6.0" fill="#0a0a0a"/>
<circle cx="608.6" cy="937.7" r="6.0" fill="#0a0a0a"/>
<circle cx="617.8" cy="940.3" r="6.0" fill="#0a0a0a"/>
<circle cx="645.4" cy="940.3" r="6.0" fill="#0a0a0a"/>
<circle cx="496.0" cy="948.6" r="6.0" fill="#0a0a0a"/>
<circle cx="759.6" cy="861.0" r="6.0" fill="#0a0a0a"/>
<circle cx="834.4" cy="864.0" r="6.0" fill="#0a0a0a"/>
<circle cx="730.9" cy="883.2" r="6.0" fill="#0a0a0a"/>
<circle cx="747.2" cy="885.7" r="6.0" fill="#0a0a0a"/>
<circle cx="767.3" cy="881.3" r="6.0" fill="#0a0a0a"/>
<circle cx="719.7" cy="894.0" r="6.0" fill="#0a0a0a"/>
<circle cx="725.4" cy="898.2" r="6.0" fill="#0a0a0a"/>
<circle cx="727.2" cy="912.4" r="6.0" fill="#0a0a0a"/>
<circle cx="382.3" cy="954.9" r="6.0" fill="#0a0a0a"/>
<circle cx="437.0" cy="962.8" r="6.0" fill="#0a0a0a"/>
<circle cx="386.3" cy="979.2" r="6.0" fill="#0a0a0a"/>
<circle cx="427.4" cy="983.4" r="6.0" fill="#0a0a0a"/>
<circle cx="430.5" cy="992.6" r="6.0" fill="#0a0a0a"/>
<circle cx="434.4" cy="1000.0" r="6.0" fill="#0a0a0a"/>
<circle cx="437.5" cy="1007.4" r="6.0" fill="#0a0a0a"/>
<circle cx="400.3" cy="994.5" r="6.0" fill="#0a0a0a"/>
<circle cx="413.6" cy="995.4" r="6.0" fill="#0a0a0a"/>
<circle cx="404.4" cy="1003.7" r="6.0" fill="#0a0a0a"/>
<circle cx="395.2" cy="1012.0" r="6.0" fill="#0a0a0a"/>
<circle cx="390.6" cy="1020.3" r="6.0" fill="#0a0a0a"/>
<circle cx="303.6" cy="1024.5" r="6.0" fill="#0a0a0a"/>
<circle cx="339.3" cy="1023.0" r="6.0" fill="#0a0a0a"/>
<circle cx="346.7" cy="1033.5" r="6.0" fill="#0a0a0a"/>
<circle cx="369.7" cy="1019.4" r="6.0" fill="#0a0a0a"/>
<circle cx="371.2" cy="1024.9" r="6.0" fill="#0a0a0a"/>
<circle cx="423.2" cy="1015.3" r="6.0" fill="#0a0a0a"/>
<circle cx="415.8" cy="1019.9" r="6.0" fill="#0a0a0a"/>
<circle cx="407.1" cy="1034.1" r="6.0" fill="#0a0a0a"/>
<circle cx="427.4" cy="1034.1" r="6.0" fill="#0a0a0a"/>
<circle cx="439.4" cy="1029.5" r="6.0" fill="#0a0a0a"/>
<circle cx="442.1" cy="1040.2" r="6.0" fill="#0a0a0a"/>
<circle cx="432.0" cy="1045.7" r="6.0" fill="#0a0a0a"/>
<circle cx="423.7" cy="1049.7" r="6.0" fill="#0a0a0a"/>
<circle cx="453.2" cy="1051.6" r="6.0" fill="#0a0a0a"/>
<circle cx="456.9" cy="1040.5" r="6.0" fill="#0a0a0a"/>
<circle cx="725.9" cy="962.7" r="6.0" fill="#0a0a0a"/>
<circle cx="699.2" cy="965.0" r="6.0" fill="#0a0a0a"/>
<circle cx="684.9" cy="970.1" r="6.0" fill="#0a0a0a"/>
<circle cx="678.4" cy="971.0" r="6.0" fill="#0a0a0a"/>
<circle cx="666.0" cy="968.7" r="6.0" fill="#0a0a0a"/>
<circle cx="661.4" cy="960.9" r="6.0" fill="#0a0a0a"/>
<circle cx="651.7" cy="959.5" r="6.0" fill="#0a0a0a"/>
<circle cx="642.5" cy="958.6" r="6.0" fill="#0a0a0a"/>
<circle cx="635.1" cy="952.1" r="6.0" fill="#0a0a0a"/>
<circle cx="645.3" cy="950.3" r="6.0" fill="#0a0a0a"/>
<circle cx="650.8" cy="954.0" r="6.0" fill="#0a0a0a"/>
<circle cx="636.5" cy="971.0" r="6.0" fill="#0a0a0a"/>
<circle cx="606.6" cy="948.4" r="6.0" fill="#0a0a0a"/>
<circle cx="609.3" cy="956.7" r="6.0" fill="#0a0a0a"/>
<circle cx="605.7" cy="960.4" r="6.0" fill="#0a0a0a"/>
<circle cx="606.1" cy="975.1" r="6.0" fill="#0a0a0a"/>
<circle cx="594.6" cy="977.9" r="6.0" fill="#0a0a0a"/>
<circle cx="615.8" cy="982.5" r="6.0" fill="#0a0a0a"/>
<circle cx="596.9" cy="987.1" r="6.0" fill="#0a0a0a"/>
<circle cx="608.9" cy="992.6" r="6.0" fill="#0a0a0a"/>
<circle cx="616.3" cy="992.6" r="6.0" fill="#0a0a0a"/>
<circle cx="611.2" cy="1017.5" r="6.0" fill="#0a0a0a"/>
<circle cx="614.9" cy="1018.4" r="6.0" fill="#0a0a0a"/>
<circle cx="596.4" cy="1029.0" r="6.0" fill="#0a0a0a"/>
<circle cx="626.4" cy="1028.1" r="6.0" fill="#0a0a0a"/>
<circle cx="288.8" cy="604.3" r="6.0" fill="#E8332B"/>
<circle cx="340.1" cy="673.7" r="6.0" fill="#E8332B"/>
<circle cx="584.8" cy="592.5" r="6.0" fill="#E8332B"/>
<circle cx="876.5" cy="617.0" r="6.0" fill="#E8332B"/>
<circle cx="737.0" cy="640.4" r="6.0" fill="#E8332B"/>
<circle cx="514.4" cy="688.2" r="6.0" fill="#E8332B"/>
<circle cx="378.6" cy="718.3" r="6.0" fill="#E8332B"/>
<circle cx="548.1" cy="750.1" r="6.0" fill="#E8332B"/>
<circle cx="635.9" cy="669.9" r="6.0" fill="#E8332B"/>
<circle cx="769.4" cy="687.0" r="6.0" fill="#E8332B"/>
<circle cx="814.5" cy="709.2" r="6.0" fill="#E8332B"/>
<circle cx="623.1" cy="723.4" r="6.0" fill="#E8332B"/>
<circle cx="686.0" cy="728.1" r="6.0" fill="#E8332B"/>
<circle cx="696.3" cy="744.0" r="6.0" fill="#E8332B"/>
<circle cx="709.3" cy="776.0" r="6.0" fill="#E8332B"/>
<circle cx="796.4" cy="773.6" r="6.0" fill="#E8332B"/>
<circle cx="673.8" cy="784.4" r="6.0" fill="#E8332B"/>
<circle cx="604.0" cy="790.5" r="6.0" fill="#E8332B"/>
<circle cx="394.1" cy="802.2" r="6.0" fill="#E8332B"/>
<circle cx="338.2" cy="832.7" r="6.0" fill="#E8332B"/>
<circle cx="319.8" cy="835.6" r="6.0" fill="#E8332B"/>
<circle cx="357.5" cy="852.3" r="6.0" fill="#E8332B"/>
<circle cx="338.7" cy="858.8" r="6.0" fill="#E8332B"/>
<circle cx="360.9" cy="862.6" r="6.0" fill="#E8332B"/>
<circle cx="323.6" cy="939.1" r="6.0" fill="#E8332B"/>
<circle cx="413.5" cy="934.4" r="6.0" fill="#E8332B"/>
<circle cx="428.5" cy="935.2" r="6.0" fill="#E8332B"/>
<circle cx="548.2" cy="803.4" r="6.0" fill="#E8332B"/>
<circle cx="621.5" cy="804.7" r="6.0" fill="#E8332B"/>
<circle cx="672.9" cy="817.2" r="6.0" fill="#E8332B"/>
<circle cx="575.8" cy="824.2" r="6.0" fill="#E8332B"/>
<circle cx="613.3" cy="840.9" r="6.0" fill="#E8332B"/>
<circle cx="607.0" cy="854.3" r="6.0" fill="#E8332B"/>
<circle cx="656.2" cy="858.9" r="6.0" fill="#E8332B"/>
<circle cx="668.4" cy="862.6" r="6.0" fill="#E8332B"/>
<circle cx="548.5" cy="876.8" r="6.0" fill="#E8332B"/>
<circle cx="687.4" cy="878.5" r="6.0" fill="#E8332B"/>
<circle cx="668.4" cy="889.3" r="6.0" fill="#E8332B"/>
<circle cx="623.7" cy="890.7" r="6.0" fill="#E8332B"/>
<circle cx="604.0" cy="898.2" r="6.0" fill="#E8332B"/>
<circle cx="612.0" cy="901.0" r="6.0" fill="#E8332B"/>
<circle cx="561.6" cy="901.9" r="6.0" fill="#E8332B"/>
<circle cx="584.9" cy="906.4" r="6.0" fill="#E8332B"/>
<circle cx="566.9" cy="910.2" r="6.0" fill="#E8332B"/>
<circle cx="699.0" cy="896.0" r="6.0" fill="#E8332B"/>
<circle cx="629.5" cy="912.7" r="6.0" fill="#E8332B"/>
<circle cx="645.4" cy="911.0" r="6.0" fill="#E8332B"/>
<circle cx="695.1" cy="913.0" r="6.0" fill="#E8332B"/>
<circle cx="592.8" cy="921.1" r="6.0" fill="#E8332B"/>
<circle cx="607.3" cy="923.9" r="6.0" fill="#E8332B"/>
<circle cx="560.2" cy="921.4" r="6.0" fill="#E8332B"/>
<circle cx="551.0" cy="933.6" r="6.0" fill="#E8332B"/>
<circle cx="552.7" cy="941.9" r="6.0" fill="#E8332B"/>
<circle cx="566.1" cy="941.9" r="6.0" fill="#E8332B"/>
<circle cx="579.4" cy="938.6" r="6.0" fill="#E8332B"/>
<circle cx="647.0" cy="945.3" r="6.0" fill="#E8332B"/>
<circle cx="801.2" cy="881.7" r="6.0" fill="#E8332B"/>
<circle cx="747.9" cy="916.4" r="6.0" fill="#E8332B"/>
<circle cx="734.7" cy="921.4" r="6.0" fill="#E8332B"/>
<circle cx="719.2" cy="923.6" r="6.0" fill="#E8332B"/>
<circle cx="857.8" cy="907.2" r="6.0" fill="#E8332B"/>
<circle cx="325.7" cy="962.6" r="6.0" fill="#E8332B"/>
<circle cx="364.8" cy="987.5" r="6.0" fill="#E8332B"/>
<circle cx="445.3" cy="977.3" r="6.0" fill="#E8332B"/>
<circle cx="443.4" cy="989.5" r="6.0" fill="#E8332B"/>
<circle cx="348.5" cy="1021.6" r="6.0" fill="#E8332B"/>
<circle cx="440.7" cy="1018.1" r="6.0" fill="#E8332B"/>
<circle cx="453.7" cy="1024.3" r="6.0" fill="#E8332B"/>
<circle cx="417.3" cy="1031.0" r="6.0" fill="#E8332B"/>
<circle cx="444.9" cy="1035.0" r="6.0" fill="#E8332B"/>
<circle cx="405.3" cy="1042.4" r="6.0" fill="#E8332B"/>
<circle cx="453.2" cy="1059.0" r="6.0" fill="#E8332B"/>
<circle cx="730.9" cy="948.9" r="6.0" fill="#E8332B"/>
<circle cx="595.5" cy="957.6" r="6.0" fill="#E8332B"/>
<circle cx="599.7" cy="981.6" r="6.0" fill="#E8332B"/>
<circle cx="519.2" cy="1038.7" r="6.0" fill="#E8332B"/>
<line x1="141.2" y1="447" x2="141.2" y2="1088.7" stroke="#0a0a0a" stroke-width="6.2"/>
<line x1="121.1" y1="1068.8" x2="986.5" y2="1068.8" stroke="#0a0a0a" stroke-width="6.3"/>
<line x1="121.1" y1="450" x2="141.2" y2="450" stroke="#0a0a0a" stroke-width="6.1"/>
<line x1="121.1" y1="656.3" x2="141.2" y2="656.3" stroke="#0a0a0a" stroke-width="6.1"/>
<line x1="121.1" y1="862.6" x2="141.2" y2="862.6" stroke="#0a0a0a" stroke-width="6.1"/>
<line x1="205.5" y1="1068.8" x2="205.5" y2="1081.7" stroke="#0a0a0a" stroke-width="6.2"/>
<line x1="270.5" y1="1068.8" x2="270.5" y2="1081.7" stroke="#0a0a0a" stroke-width="6.2"/>
<line x1="335.6" y1="1068.8" x2="335.6" y2="1081.7" stroke="#0a0a0a" stroke-width="6.2"/>
<line x1="400.6" y1="1068.8" x2="400.6" y2="1081.7" stroke="#0a0a0a" stroke-width="6.2"/>
<line x1="465.6" y1="1068.8" x2="465.6" y2="1088.7" stroke="#0a0a0a" stroke-width="6.2"/>
<line x1="530.6" y1="1068.8" x2="530.6" y2="1081.7" stroke="#0a0a0a" stroke-width="6.2"/>
<line x1="595.6" y1="1068.8" x2="595.6" y2="1081.7" stroke="#0a0a0a" stroke-width="6.2"/>
<line x1="660.7" y1="1068.8" x2="660.7" y2="1081.7" stroke="#0a0a0a" stroke-width="6.2"/>
<line x1="725.7" y1="1068.8" x2="725.7" y2="1081.7" stroke="#0a0a0a" stroke-width="6.2"/>
<line x1="790.7" y1="1068.8" x2="790.7" y2="1088.7" stroke="#0a0a0a" stroke-width="6.2"/>
<line x1="855.7" y1="1068.8" x2="855.7" y2="1081.7" stroke="#0a0a0a" stroke-width="6.2"/>
<line x1="920.7" y1="1068.8" x2="920.7" y2="1081.7" stroke="#0a0a0a" stroke-width="6.2"/>
<text x="100.82" y="460.20" font-size="29.50" fill="#0a0a0a" font-weight="bold" textLength="16.74" lengthAdjust="spacingAndGlyphs" >6</text>
<text x="101.08" y="666.30" font-size="29.50" fill="#0a0a0a" font-weight="bold" textLength="15.46" lengthAdjust="spacingAndGlyphs" >4</text>
<text x="100.45" y="873.00" font-size="29.50" fill="#0a0a0a" font-weight="bold" textLength="17.16" lengthAdjust="spacingAndGlyphs" >2</text>
<text x="100.94" y="1078.90" font-size="29.50" fill="#0a0a0a" font-weight="bold" textLength="16.56" lengthAdjust="spacingAndGlyphs" >0</text>
<text x="128.58" y="1118.90" font-size="29.50" fill="#0a0a0a" font-weight="bold" textLength="25.50" lengthAdjust="spacingAndGlyphs" >-5</text>
<text x="457.41" y="1118.90" font-size="29.50" fill="#0a0a0a" font-weight="bold" >0</text>
<text x="783.15" y="1118.90" font-size="29.50" fill="#0a0a0a" font-weight="bold" >5</text>
<text x="876.95" y="978.50" font-size="34.50" fill="#0a0a0a" font-weight="bold" textLength="103.93" lengthAdjust="spacingAndGlyphs" >P=0.05</text>
<text x="260.35" y="1173.50" font-size="44.00" fill="#0a0a0a" font-weight="bold" textLength="76.32" lengthAdjust="spacingAndGlyphs" >Log</text>
<text x="335.92" y="1186.40" font-size="31.50" fill="#0a0a0a" font-weight="bold" textLength="17.62" lengthAdjust="spacingAndGlyphs" >2</text>
<text x="353.16" y="1173.50" font-size="44.00" fill="#0a0a0a" font-weight="bold" textLength="516.89" lengthAdjust="spacingAndGlyphs" >(EGFR-FabID/AGIA-FabID)</text>
<g transform="translate(52,0) rotate(-90)"><text x="-906.91" y="0.00" font-size="43.50" fill="#0a0a0a" font-weight="bold" textLength="89.67" lengthAdjust="spacingAndGlyphs" >-Log</text><text x="-817.58" y="13.70" font-size="32.50" fill="#0a0a0a" font-weight="bold" textLength="33.81" lengthAdjust="spacingAndGlyphs" >10</text><text x="-783.42" y="0.00" font-size="43.50" fill="#0a0a0a" font-weight="bold" textLength="172.15" lengthAdjust="spacingAndGlyphs" >(p-value)</text></g>
<text x="1049.45" y="450.20" font-size="68.00" fill="#231815" font-weight="bold" >c</text>
<line x1="1134.1" y1="468" x2="1691" y2="468" stroke="#231815" stroke-width="3"/>
<line x1="1143.3" y1="557" x2="1691" y2="557" stroke="#231815" stroke-width="3"/>
<line x1="1144" y1="1527.7" x2="1691" y2="1527.7" stroke="#231815" stroke-width="3"/>
<text x="1144.53" y="510.50" font-size="38.80" fill="#231815" textLength="95.28" lengthAdjust="spacingAndGlyphs" >Protein</text>
<text x="1145.02" y="544.60" font-size="38.80" fill="#231815" textLength="75.22" lengthAdjust="spacingAndGlyphs" >name</text>
<text x="1348.88" y="511.00" font-size="38.80" fill="#231815" textLength="96.94" lengthAdjust="spacingAndGlyphs" >Uniprot</text>
<text x="1349.94" y="544.20" font-size="38.80" fill="#231815" textLength="65.21" lengthAdjust="spacingAndGlyphs" >code</text>
<text x="1511.73" y="528.90" font-size="38.80" fill="#231815" textLength="135.39" lengthAdjust="spacingAndGlyphs" >DTX edge</text>
<text x="1140.5" y="617.5" font-size="38.4" fill="#231815">CANX</text>
<text x="1348.2" y="617.5" font-size="38.4" fill="#231815">P27824</text>
<text x="1529.49" y="617.50" font-size="38.40" fill="#595757" >1</text>
<text x="1140.5" y="659.6" font-size="38.4" fill="#231815">DSC2</text>
<text x="1348.2" y="659.6" font-size="38.4" fill="#231815">Q02487</text>
<text x="1530.02" y="659.60" font-size="38.40" fill="#595757" >2</text>
<text x="1140.5" y="701.7" font-size="38.4" fill="#231815">DSG2</text>
<text x="1348.2" y="701.7" font-size="38.4" fill="#231815">Q14126</text>
<text x="1530.02" y="701.70" font-size="38.40" fill="#595757" >2</text>
<text x="1140.5" y="743.8" font-size="38.4" fill="#231815">EEF1A1</text>
<text x="1348.2" y="743.8" font-size="38.4" fill="#231815">P68104</text>
<text x="1529.49" y="743.80" font-size="38.40" fill="#595757" >1</text>
<text x="1140.5" y="785.9" font-size="38.4" fill="#231815">EGFR</text>
<text x="1348.2" y="785.9" font-size="38.4" fill="#231815">P00533</text>
<text x="1530.01" y="785.90" font-size="38.40" fill="#595757" >0</text>
<text x="1140.5" y="828.0" font-size="38.4" fill="#231815">ENO1</text>
<text x="1348.2" y="828.0" font-size="38.4" fill="#231815">P06733</text>
<text x="1530.02" y="828.00" font-size="38.40" fill="#595757" >2</text>
<text x="1140.5" y="870.1" font-size="38.4" fill="#231815">EZR</text>
<text x="1348.2" y="870.1" font-size="38.4" fill="#231815">P15311</text>
<text x="1529.49" y="870.10" font-size="38.40" fill="#595757" >1</text>
<text x="1140.5" y="912.2" font-size="38.4" fill="#231815">GAPDH</text>
<text x="1348.2" y="912.2" font-size="38.4" fill="#231815">P04406</text>
<text x="1529.49" y="912.20" font-size="38.40" fill="#595757" >1</text>
<text x="1140.5" y="954.3" font-size="38.4" fill="#231815">HSP90AA1</text>
<text x="1348.2" y="954.3" font-size="38.4" fill="#231815">P07900</text>
<text x="1529.49" y="954.30" font-size="38.40" fill="#595757" >1</text>
<text x="1140.5" y="996.4" font-size="38.4" fill="#231815">HSP90AB1</text>
<text x="1348.2" y="996.4" font-size="38.4" fill="#231815">P08238</text>
<text x="1529.49" y="996.40" font-size="38.40" fill="#595757" >1</text>
<text x="1140.5" y="1038.5" font-size="38.4" fill="#231815">HSPA8</text>
<text x="1348.2" y="1038.5" font-size="38.4" fill="#231815">P11142</text>
<text x="1529.49" y="1038.50" font-size="38.40" fill="#595757" >1</text>
<text x="1140.5" y="1080.6" font-size="38.4" fill="#231815">SLC25A5</text>
<text x="1348.2" y="1080.6" font-size="38.4" fill="#231815">P05141</text>
<text x="1529.49" y="1080.60" font-size="38.40" fill="#595757" >1</text>
<text x="1140.5" y="1122.7" font-size="38.4" fill="#00A0DE">CD44</text>
<text x="1348.2" y="1122.7" font-size="38.4" fill="#00A0DE">P16070</text>
<text x="1530.02" y="1122.70" font-size="38.40" fill="#00A0DE" >2</text>
<text x="1140.5" y="1164.8" font-size="38.4" fill="#00A0DE">CDH2</text>
<text x="1348.2" y="1164.8" font-size="38.4" fill="#00A0DE">P19022</text>
<text x="1530.02" y="1164.80" font-size="38.40" fill="#00A0DE" >2</text>
<text x="1140.5" y="1206.9" font-size="38.4" fill="#00A0DE">CDH3</text>
<text x="1348.2" y="1206.9" font-size="38.4" fill="#00A0DE">P22223</text>
<text x="1530.02" y="1206.90" font-size="38.40" fill="#00A0DE" >2</text>
<text x="1140.5" y="1249.0" font-size="38.4" fill="#00A0DE">EPRS</text>
<text x="1348.2" y="1249.0" font-size="38.4" fill="#00A0DE">P07814</text>
<text x="1530.02" y="1249.00" font-size="38.40" fill="#00A0DE" >2</text>
<text x="1140.5" y="1291.1" font-size="38.4" fill="#00A0DE">INSR</text>
<text x="1348.2" y="1291.1" font-size="38.4" fill="#00A0DE">P06213</text>
<text x="1530.02" y="1291.10" font-size="38.40" fill="#00A0DE" >2</text>
<text x="1140.5" y="1333.2" font-size="38.4" fill="#00A0DE">MICA</text>
<text x="1348.2" y="1333.2" font-size="38.4" fill="#00A0DE">Q29983</text>
<text x="1530.02" y="1333.20" font-size="38.40" fill="#00A0DE" >2</text>
<text x="1140.5" y="1375.3" font-size="38.4" fill="#00A0DE">PCDH9</text>
<text x="1348.2" y="1375.3" font-size="38.4" fill="#00A0DE">Q9HC56</text>
<text x="1530.12" y="1375.30" font-size="38.40" fill="#00A0DE" >3</text>
<text x="1140.5" y="1417.4" font-size="38.4" fill="#00A0DE">PHB2</text>
<text x="1348.2" y="1417.4" font-size="38.4" fill="#00A0DE">Q99623</text>
<text x="1530.02" y="1417.40" font-size="38.40" fill="#00A0DE" >2</text>
<text x="1140.5" y="1459.5" font-size="38.4" fill="#00A0DE">SLC39A10</text>
<text x="1348.2" y="1459.5" font-size="38.4" fill="#00A0DE">Q9ULF5</text>
<text x="1530.12" y="1459.50" font-size="38.40" fill="#00A0DE" >3</text>
<text x="1140.5" y="1501.6" font-size="38.4" fill="#00A0DE">VDAC1</text>
<text x="1348.2" y="1501.6" font-size="38.4" fill="#00A0DE">P21796</text>
<text x="1530.02" y="1501.60" font-size="38.40" fill="#00A0DE" >2</text>
<text x="2.52" y="1308.80" font-size="78.00" fill="#231815" font-weight="bold" textLength="48.84" lengthAdjust="spacingAndGlyphs" >d</text>
<line x1="535.6" y1="1464.7" x2="539.5" y2="1535.8" stroke="#6F7275" stroke-width="2.2"/>
<line x1="563.9" y1="1552.4" x2="700.5" y2="1506.5" stroke="#6F7275" stroke-width="2.2"/>
<line x1="541.7" y1="1584.6" x2="545.1" y2="1669.8" stroke="#6F7275" stroke-width="2.2"/>
<line x1="717.3" y1="1522.3" x2="678.4" y2="1670.3" stroke="#6F7275" stroke-width="2.2"/>
<line x1="327.4" y1="1580.8" x2="423.3" y2="1599.7" stroke="#6F7275" stroke-width="2.2"/>
<line x1="320.1" y1="1594.1" x2="393.8" y2="1673.0" stroke="#6F7275" stroke-width="2.2"/>
<line x1="465.4" y1="1621.0" x2="528.0" y2="1677.8" stroke="#6F7275" stroke-width="2.2"/>
<line x1="617.1" y1="1618.8" x2="562.7" y2="1676.4" stroke="#6F7275" stroke-width="2.2"/>
<line x1="435.0" y1="1691.5" x2="521.7" y2="1693.5" stroke="#6F7275" stroke-width="2.2"/>
<line x1="570.3" y1="1694.1" x2="647.6" y2="1694.1" stroke="#6F7275" stroke-width="2.2"/>
<line x1="528.1" y1="1710.5" x2="464.2" y2="1769.2" stroke="#6F7275" stroke-width="2.2"/>
<line x1="545.1" y1="1718.4" x2="541.9" y2="1802.5" stroke="#6F7275" stroke-width="2.2"/>
<line x1="562.5" y1="1711.9" x2="616.6" y2="1770.4" stroke="#6F7275" stroke-width="2.2"/>
<line x1="677.5" y1="1718.1" x2="707.7" y2="1853.4" stroke="#6F7275" stroke-width="2.2"/>
<line x1="564.5" y1="1833.9" x2="689.5" y2="1870.4" stroke="#6F7275" stroke-width="2.2"/>
<line x1="428.5" y1="1803.4" x2="365.8" y2="1866.2" stroke="#6F7275" stroke-width="2.2"/>
<circle cx="623.6" cy="1316.9" r="20.3" fill="#F2C42E"/>
<circle cx="342.5" cy="1369" r="20.6" fill="#EF9428"/>
<circle cx="534.3" cy="1440.4" r="20.9" fill="#EF9428"/>
<circle cx="859.3" cy="1479.3" r="20.6" fill="#EF9428"/>
<circle cx="723.5" cy="1498.8" r="20.9" fill="#EF9428"/>
<circle cx="540.8" cy="1560.2" r="21.0" fill="#E96A2C"/>
<circle cx="303.2" cy="1576" r="21.3" fill="#EF9428"/>
<circle cx="185.3" cy="1608.7" r="21.3" fill="#EF9428"/>
<circle cx="447.3" cy="1604.5" r="21.1" fill="#E96A2C"/>
<circle cx="633.8" cy="1601.1" r="20.9" fill="#E96A2C"/>
<circle cx="410.5" cy="1690.9" r="21.1" fill="#E96A2C"/>
<circle cx="546" cy="1694.1" r="20.9" fill="#00998F"/>
<circle cx="672.2" cy="1694.1" r="21.2" fill="#E96A2C"/>
<circle cx="911.4" cy="1760.4" r="20.1" fill="#EF9428"/>
<circle cx="446" cy="1785.9" r="21.3" fill="#E96A2C"/>
<circle cx="633.2" cy="1788.4" r="21.1" fill="#E96A2C"/>
<circle cx="541" cy="1827" r="21.1" fill="#E96A2C"/>
<circle cx="231.1" cy="1886.8" r="20.9" fill="#EF9428"/>
<circle cx="348.6" cy="1883.4" r="20.9" fill="#EF9428"/>
<circle cx="713" cy="1877.3" r="21.1" fill="#EF9428"/>
<circle cx="504.7" cy="1958.7" r="20.9" fill="#F2C42E"/>
<circle cx="748.2" cy="1997.1" r="20.1" fill="#EF9428"/>
<text x="561.45" y="1329.60" font-size="30.50" fill="#066BB5" font-weight="bold" textLength="149.35" lengthAdjust="spacingAndGlyphs" >SLC39A10</text>
<text x="308.35" y="1381.20" font-size="30.50" fill="#066BB5" font-weight="bold" >CDH2</text>
<text x="496.23" y="1447.00" font-size="30.50" fill="#066BB5" font-weight="bold" textLength="79.11" lengthAdjust="spacingAndGlyphs" >CD44</text>
<text x="826.02" y="1490.80" font-size="30.50" fill="#066BB5" font-weight="bold" textLength="76.67" lengthAdjust="spacingAndGlyphs" >MICA</text>
<text x="689.91" y="1512.40" font-size="30.50" fill="#595A5C" font-weight="bold" textLength="77.80" lengthAdjust="spacingAndGlyphs" >DSG2</text>
<text x="517.02" y="1563.80" font-size="30.50" fill="#595A5C" font-weight="bold" textLength="50.99" lengthAdjust="spacingAndGlyphs" >EZR</text>
<text x="269.75" y="1585.60" font-size="30.50" fill="#595A5C" font-weight="bold" textLength="76.31" lengthAdjust="spacingAndGlyphs" >ENO1</text>
<text x="145.37" y="1617.90" font-size="30.50" fill="#066BB5" font-weight="bold" textLength="81.98" lengthAdjust="spacingAndGlyphs" >CDH3</text>
<text x="410.89" y="1612.60" font-size="30.50" fill="#595A5C" font-weight="bold" textLength="94.18" lengthAdjust="spacingAndGlyphs" >HSPA8</text>
<text x="596.74" y="1612.10" font-size="30.50" fill="#595A5C" font-weight="bold" textLength="102.17" lengthAdjust="spacingAndGlyphs" >GAPDH</text>
<text x="333.13" y="1703.80" font-size="30.50" fill="#595A5C" font-weight="bold" textLength="146.54" lengthAdjust="spacingAndGlyphs" >HSP90AB1</text>
<text x="514.22" y="1704.20" font-size="28.60" fill="#E3192D" font-weight="bold" textLength="70.89" lengthAdjust="spacingAndGlyphs" >EGFR</text>
<text x="650.13" y="1705.70" font-size="30.50" fill="#595A5C" font-weight="bold" textLength="80.99" lengthAdjust="spacingAndGlyphs" >CANX</text>
<text x="881.14" y="1771.70" font-size="30.50" fill="#066BB5" font-weight="bold" textLength="63.59" lengthAdjust="spacingAndGlyphs" >INSR</text>
<text x="378.37" y="1798.70" font-size="30.50" fill="#595A5C" font-weight="bold" textLength="151.32" lengthAdjust="spacingAndGlyphs" >HSP90AA1</text>
<text x="595.46" y="1799.40" font-size="30.50" fill="#595A5C" font-weight="bold" textLength="105.20" lengthAdjust="spacingAndGlyphs" >EEF1A1</text>
<text x="477.97" y="1839.10" font-size="30.50" fill="#595A5C" font-weight="bold" textLength="130.42" lengthAdjust="spacingAndGlyphs" >SLC25A5</text>
<text x="199.55" y="1898.90" font-size="30.50" fill="#066BB5" font-weight="bold" textLength="74.86" lengthAdjust="spacingAndGlyphs" >PHB2</text>
<text x="318.29" y="1895.40" font-size="30.50" fill="#066BB5" font-weight="bold" textLength="66.47" lengthAdjust="spacingAndGlyphs" >EPRS</text>
<text x="675.53" y="1888.80" font-size="30.50" fill="#066BB5" font-weight="bold" textLength="97.64" lengthAdjust="spacingAndGlyphs" >VDAC1</text>
<text x="467.58" y="1969.70" font-size="30.50" fill="#066BB5" font-weight="bold" textLength="98.56" lengthAdjust="spacingAndGlyphs" >PCDH9</text>
<text x="715.21" y="2008.30" font-size="30.50" fill="#E3192D" font-weight="bold" textLength="76.42" lengthAdjust="spacingAndGlyphs" >DSC2</text>
<circle cx="160.2" cy="1991.5" r="12.2" fill="#E96A2C"/>
<text x="178.85" y="2002.20" font-size="27.30" fill="#0a0a0a" textLength="225.51" lengthAdjust="spacingAndGlyphs" >Directly connected</text>
<circle cx="160.2" cy="2025.6" r="12.2" fill="#EF9428"/>
<text x="179.74" y="2035.60" font-size="27.30" fill="#0a0a0a" textLength="294.75" lengthAdjust="spacingAndGlyphs" >Connected via one node</text>
<circle cx="160.2" cy="2058.4" r="12.2" fill="#F2C42E"/>
<text x="179.74" y="2069.70" font-size="27.30" fill="#0a0a0a" >Connected via two nodes</text>
<circle cx="160.2" cy="2091" r="12.2" fill="#A8C94A"/>
<text x="178.85" y="2102.30" font-size="27.30" fill="#0a0a0a" textLength="177.00" lengthAdjust="spacingAndGlyphs" >Not connected</text>
</svg>
</body></html>
